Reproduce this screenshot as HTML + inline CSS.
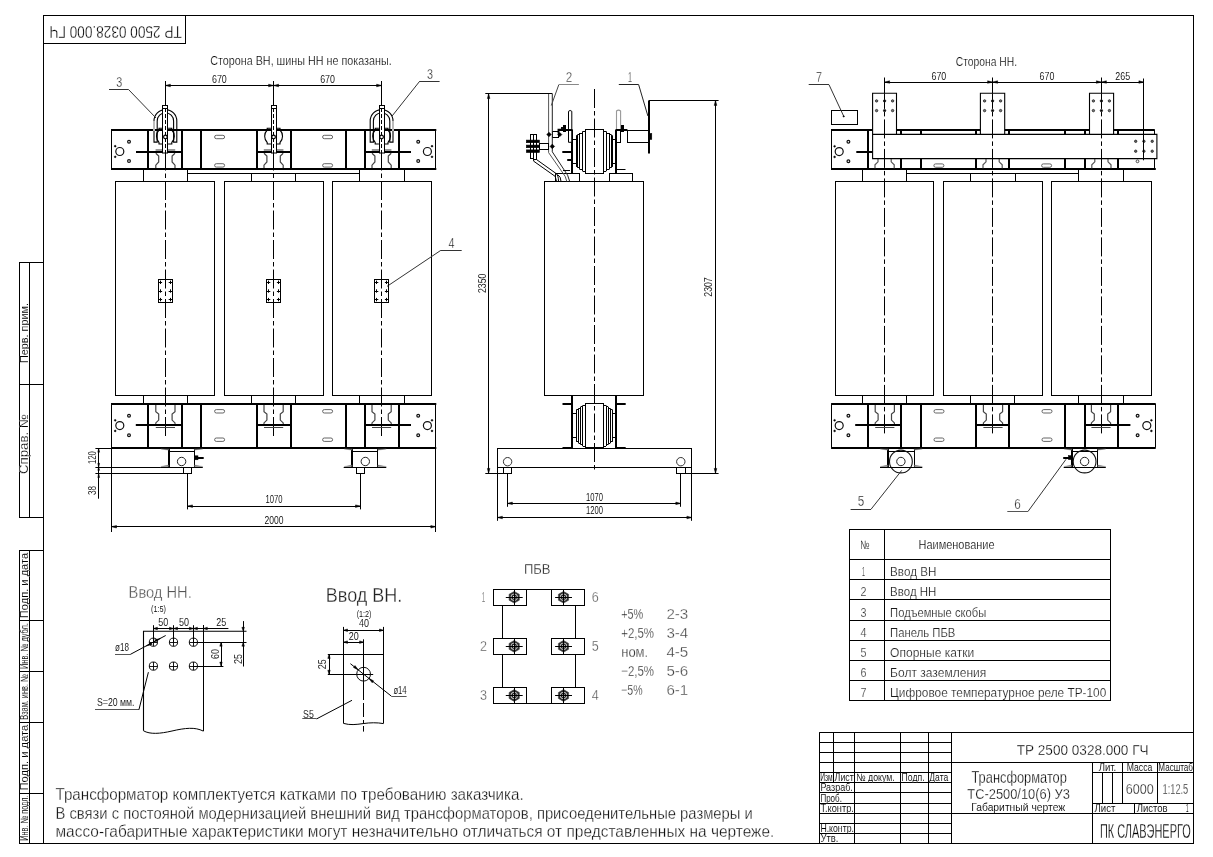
<!DOCTYPE html>
<html><head><meta charset="utf-8"><title>TP 2500</title>
<style>
html,body{margin:0;padding:0;background:#fff;}
body{width:1213px;height:857px;overflow:hidden;}
svg{display:block;will-change:transform;}
text{font-family:"Liberation Sans",sans-serif;stroke:#fff;}
</style></head><body>
<svg width="1213" height="857" viewBox="0 0 1213 857">
<rect x="0" y="0" width="1213" height="857" fill="#fff"/>
<rect x="43.5" y="15.5" width="1150.0" height="828.0" stroke="#000" stroke-width="1" fill="none" />
<rect x="43.5" y="15.5" width="142.0" height="28.0" stroke="#000" stroke-width="1" fill="none" />
<text x="115.6" y="30.5" font-size="16" text-anchor="middle" fill="#000" stroke-width="0.3" textLength="132.3" lengthAdjust="spacingAndGlyphs" transform="rotate(180 115.6 30.5)" dominant-baseline="middle">ТР 2500 0328.000 ГЧ</text>
<rect x="19.5" y="262.5" width="24.0" height="255.0" stroke="#000" stroke-width="1" fill="none" />
<line x1="29.5" y1="262.7" x2="29.5" y2="517.0" stroke="#000" stroke-width="1" />
<line x1="19.3" y1="384.5" x2="43.5" y2="384.5" stroke="#000" stroke-width="1" />
<text x="28.0" y="333.0" font-size="10.5" text-anchor="middle" fill="#000" stroke-width="0.08" textLength="60.0" lengthAdjust="spacingAndGlyphs" transform="rotate(-90 28.0 333.0)" >Перв. прим.</text>
<text x="28.0" y="444.0" font-size="12" text-anchor="middle" fill="#000" stroke-width="0.2" textLength="60.0" lengthAdjust="spacingAndGlyphs" transform="rotate(-90 28.0 444.0)" >Справ. №</text>
<rect x="19.5" y="550.5" width="24.0" height="293.0" stroke="#000" stroke-width="1" fill="none" />
<line x1="29.5" y1="550.4" x2="29.5" y2="843.3" stroke="#000" stroke-width="1" />
<line x1="19.5" y1="620.5" x2="43.5" y2="620.5" stroke="#000" stroke-width="1" />
<line x1="19.5" y1="671.5" x2="43.5" y2="671.5" stroke="#000" stroke-width="1" />
<line x1="19.5" y1="722.5" x2="43.5" y2="722.5" stroke="#000" stroke-width="1" />
<line x1="19.5" y1="793.5" x2="43.5" y2="793.5" stroke="#000" stroke-width="1" />
<text x="28.3" y="585.5" font-size="10.5" text-anchor="middle" fill="#000" stroke-width="0.08" textLength="65.3" lengthAdjust="spacingAndGlyphs" transform="rotate(-90 28.3 585.5)" >Подп. и дата</text>
<text x="28.3" y="646.1" font-size="10.5" text-anchor="middle" fill="#000" stroke-width="0.08" textLength="45.8" lengthAdjust="spacingAndGlyphs" transform="rotate(-90 28.3 646.1)" >Инв. № дубл.</text>
<text x="28.3" y="696.9" font-size="10.5" text-anchor="middle" fill="#000" stroke-width="0.08" textLength="45.7" lengthAdjust="spacingAndGlyphs" transform="rotate(-90 28.3 696.9)" >Взам. инв. №</text>
<text x="28.3" y="757.6" font-size="10.5" text-anchor="middle" fill="#000" stroke-width="0.08" textLength="65.8" lengthAdjust="spacingAndGlyphs" transform="rotate(-90 28.3 757.6)" >Подп. и дата</text>
<text x="28.3" y="818.1" font-size="10.5" text-anchor="middle" fill="#000" stroke-width="0.08" textLength="45.3" lengthAdjust="spacingAndGlyphs" transform="rotate(-90 28.3 818.1)" >Инв. № подл.</text>
<rect x="115.5" y="181.5" width="99.0" height="214.0" stroke="#000" stroke-width="1" fill="none" />
<rect x="224.5" y="181.5" width="99.0" height="214.0" stroke="#000" stroke-width="1" fill="none" />
<rect x="332.5" y="181.5" width="99.0" height="214.0" stroke="#000" stroke-width="1" fill="none" />
<rect x="143.5" y="168.5" width="44.0" height="13.0" stroke="#000" stroke-width="1" fill="none" />
<rect x="359.5" y="168.5" width="45.0" height="13.0" stroke="#000" stroke-width="1" fill="none" />
<line x1="187.3" y1="173.5" x2="359.5" y2="173.5" stroke="#000" stroke-width="1" />
<line x1="251.5" y1="173.5" x2="251.5" y2="181.2" stroke="#000" stroke-width="1" />
<line x1="295.5" y1="173.5" x2="295.5" y2="181.2" stroke="#000" stroke-width="1" />
<line x1="165.5" y1="81.0" x2="165.5" y2="105.4" stroke="#000" stroke-width="1" />
<line x1="165.5" y1="153.0" x2="165.5" y2="436.0" stroke="#000" stroke-width="1" stroke-dasharray="19 3 4.5 3" stroke-dashoffset="1.5"/>
<line x1="273.5" y1="81.0" x2="273.5" y2="105.4" stroke="#000" stroke-width="1" />
<line x1="273.5" y1="153.0" x2="273.5" y2="436.0" stroke="#000" stroke-width="1" stroke-dasharray="19 3 4.5 3" stroke-dashoffset="1.5"/>
<line x1="381.5" y1="81.0" x2="381.5" y2="105.4" stroke="#000" stroke-width="1" />
<line x1="381.5" y1="153.0" x2="381.5" y2="436.0" stroke="#000" stroke-width="1" stroke-dasharray="19 3 4.5 3" stroke-dashoffset="1.5"/>
<path d="M155.8 153.3 L158.7 156.0 L158.7 162.0 L155.8 165.2 L155.8 168.0" stroke="#444" stroke-width="1.2" fill="none" />
<path d="M175.0 153.3 L172.1 156.0 L172.1 162.0 L175.0 165.2 L175.0 168.0" stroke="#444" stroke-width="1.2" fill="none" />
<line x1="155.6" y1="150.0" x2="175.2" y2="150.0" stroke="#999" stroke-width="2" />
<path d="M264.0 153.3 L266.9 156.0 L266.9 162.0 L264.0 165.2 L264.0 168.0" stroke="#444" stroke-width="1.2" fill="none" />
<path d="M283.2 153.3 L280.3 156.0 L280.3 162.0 L283.2 165.2 L283.2 168.0" stroke="#444" stroke-width="1.2" fill="none" />
<line x1="263.8" y1="150.0" x2="283.4" y2="150.0" stroke="#999" stroke-width="2" />
<path d="M372.0 153.3 L374.9 156.0 L374.9 162.0 L372.0 165.2 L372.0 168.0" stroke="#444" stroke-width="1.2" fill="none" />
<path d="M391.2 153.3 L388.3 156.0 L388.3 162.0 L391.2 165.2 L391.2 168.0" stroke="#444" stroke-width="1.2" fill="none" />
<line x1="371.8" y1="150.0" x2="391.4" y2="150.0" stroke="#999" stroke-width="2" />
<line x1="111.0" y1="130.0" x2="436.3" y2="130.0" stroke="#000" stroke-width="2" />
<line x1="111.0" y1="169.0" x2="436.3" y2="169.0" stroke="#000" stroke-width="2" />
<line x1="111.5" y1="130.1" x2="111.5" y2="168.8" stroke="#000" stroke-width="1" />
<line x1="435.5" y1="130.1" x2="435.5" y2="168.8" stroke="#000" stroke-width="1" />
<line x1="148.0" y1="130.1" x2="148.0" y2="168.8" stroke="#000" stroke-width="2" />
<line x1="182.0" y1="130.1" x2="182.0" y2="168.8" stroke="#000" stroke-width="2" />
<line x1="201.0" y1="130.1" x2="201.0" y2="168.8" stroke="#000" stroke-width="2" />
<line x1="257.0" y1="130.1" x2="257.0" y2="168.8" stroke="#000" stroke-width="2" />
<line x1="291.0" y1="130.1" x2="291.0" y2="168.8" stroke="#000" stroke-width="2" />
<line x1="346.0" y1="130.1" x2="346.0" y2="168.8" stroke="#000" stroke-width="2" />
<line x1="365.0" y1="130.1" x2="365.0" y2="168.8" stroke="#000" stroke-width="2" />
<line x1="399.0" y1="130.1" x2="399.0" y2="168.8" stroke="#000" stroke-width="2" />
<line x1="136.0" y1="152.0" x2="182.3" y2="152.0" stroke="#000" stroke-width="2" />
<line x1="256.6" y1="152.0" x2="290.6" y2="152.0" stroke="#000" stroke-width="2" />
<line x1="364.9" y1="152.0" x2="411.0" y2="152.0" stroke="#000" stroke-width="2" />
<rect x="214.6" y="135.3" width="10" height="3.4" rx="1.7" stroke="#555" stroke-width="0.9" fill="none"/>
<rect x="214.6" y="163.7" width="10" height="3.4" rx="1.7" stroke="#555" stroke-width="0.9" fill="none"/>
<rect x="322.6" y="135.3" width="10" height="3.4" rx="1.7" stroke="#555" stroke-width="0.9" fill="none"/>
<rect x="322.6" y="163.7" width="10" height="3.4" rx="1.7" stroke="#555" stroke-width="0.9" fill="none"/>
<circle cx="119.8" cy="151.5" r="4.0" stroke="#111" stroke-width="1.2" fill="none"/>
<circle cx="129.0" cy="141.7" r="1.4" stroke="#111" stroke-width="1.2" fill="none"/>
<circle cx="129.0" cy="161.1" r="1.4" stroke="#111" stroke-width="1.2" fill="none"/>
<circle cx="115.2" cy="146.2" r="0.9" stroke="#000" stroke-width="0.5" fill="#000"/>
<circle cx="115.2" cy="156.8" r="0.9" stroke="#000" stroke-width="0.5" fill="#000"/>
<circle cx="427.4" cy="151.5" r="4.0" stroke="#111" stroke-width="1.2" fill="none"/>
<circle cx="418.2" cy="141.7" r="1.4" stroke="#111" stroke-width="1.2" fill="none"/>
<circle cx="418.2" cy="161.1" r="1.4" stroke="#111" stroke-width="1.2" fill="none"/>
<circle cx="432.0" cy="146.2" r="0.9" stroke="#000" stroke-width="0.5" fill="#000"/>
<circle cx="432.0" cy="156.8" r="0.9" stroke="#000" stroke-width="0.5" fill="#000"/>
<path d="M162.7 128.3 L159.0 128.3 L159.0 130 A9 9 0 0 0 159.0 142.5 L159.0 144 L162.7 144" stroke="#000" stroke-width="1.1" fill="none" />
<path d="M168.1 128.3 L171.8 128.3 L171.8 130 A9 9 0 0 1 171.8 142.5 L171.8 144 L168.1 144" stroke="#000" stroke-width="1.1" fill="none" />
<path d="M154.0 142.1 L154.0 121 A11.4 11.4 0 0 1 176.8 121 L176.8 142.1 L173.6 142.1 L173.6 121 A8.2 8.2 0 0 0 157.2 121 L157.2 142.1Z" stroke="#000" stroke-width="1.1" fill="none" />
<line x1="154.0" y1="121.0" x2="154.0" y2="131.0" stroke="#bbb" stroke-width="2" />
<rect x="162.5" y="105.5" width="5.0" height="47.5" fill="#fff" stroke="#000" stroke-width="1"/>
<line x1="162.5" y1="108.5" x2="167.5" y2="108.5" stroke="#000" stroke-width="1" />
<line x1="165.5" y1="108.0" x2="165.5" y2="153.0" stroke="#000" stroke-width="1" stroke-dasharray="4 2"/>
<circle cx="165.4" cy="137.0" r="1.8" stroke="#000" stroke-width="1.2" fill="#fff"/>
<path d="M270.9 128.3 L267.2 128.3 L267.2 130 A9 9 0 0 0 267.2 142.5 L267.2 144 L270.9 144" stroke="#000" stroke-width="1.1" fill="none" />
<path d="M276.3 128.3 L280.0 128.3 L280.0 130 A9 9 0 0 1 280.0 142.5 L280.0 144 L276.3 144" stroke="#000" stroke-width="1.1" fill="none" />
<rect x="271.5" y="105.5" width="5.0" height="47.5" fill="#fff" stroke="#000" stroke-width="1"/>
<line x1="271.5" y1="108.5" x2="276.5" y2="108.5" stroke="#000" stroke-width="1" />
<line x1="273.5" y1="108.0" x2="273.5" y2="153.0" stroke="#000" stroke-width="1" stroke-dasharray="4 2"/>
<circle cx="273.6" cy="137.0" r="1.8" stroke="#000" stroke-width="1.2" fill="#fff"/>
<path d="M378.9 128.3 L375.2 128.3 L375.2 130 A9 9 0 0 0 375.2 142.5 L375.2 144 L378.9 144" stroke="#000" stroke-width="1.1" fill="none" />
<path d="M384.3 128.3 L388.0 128.3 L388.0 130 A9 9 0 0 1 388.0 142.5 L388.0 144 L384.3 144" stroke="#000" stroke-width="1.1" fill="none" />
<path d="M370.2 142.1 L370.2 121 A11.4 11.4 0 0 1 393.0 121 L393.0 142.1 L389.8 142.1 L389.8 121 A8.2 8.2 0 0 0 373.4 121 L373.4 142.1Z" stroke="#000" stroke-width="1.1" fill="none" />
<line x1="393.0" y1="121.0" x2="393.0" y2="131.0" stroke="#bbb" stroke-width="2" />
<rect x="379.5" y="105.5" width="5.0" height="47.5" fill="#fff" stroke="#000" stroke-width="1"/>
<line x1="379.5" y1="108.5" x2="384.5" y2="108.5" stroke="#000" stroke-width="1" />
<line x1="381.5" y1="108.0" x2="381.5" y2="153.0" stroke="#000" stroke-width="1" stroke-dasharray="4 2"/>
<circle cx="381.6" cy="137.0" r="1.8" stroke="#000" stroke-width="1.2" fill="#fff"/>
<line x1="165.4" y1="85.5" x2="381.6" y2="85.5" stroke="#000" stroke-width="1" />
<path d="M165.4 85.5 L170.4 84.2 L170.4 86.8Z" fill="#000" stroke="#000" stroke-width="0.5"/>
<path d="M273.6 85.5 L268.6 84.2 L268.6 86.8Z" fill="#000" stroke="#000" stroke-width="0.5"/>
<path d="M273.6 85.5 L278.6 84.2 L278.6 86.8Z" fill="#000" stroke="#000" stroke-width="0.5"/>
<path d="M381.6 85.5 L376.6 84.2 L376.6 86.8Z" fill="#000" stroke="#000" stroke-width="0.5"/>
<text x="219.4" y="82.8" font-size="10" text-anchor="middle" fill="#000" stroke-width="0.08" textLength="14.8" lengthAdjust="spacingAndGlyphs" >670</text>
<text x="327.6" y="82.8" font-size="10" text-anchor="middle" fill="#000" stroke-width="0.08" textLength="14.8" lengthAdjust="spacingAndGlyphs" >670</text>
<text x="210.2" y="64.6" font-size="12" text-anchor="start" fill="#000" stroke-width="0.2" textLength="181.5" lengthAdjust="spacingAndGlyphs" >Сторона ВН, шины НН не показаны.</text>
<text x="119.3" y="86.7" font-size="14" text-anchor="middle" fill="#1a1a1a" stroke-width="0.3" textLength="6.0" lengthAdjust="spacingAndGlyphs" >3</text>
<line x1="109.0" y1="89.5" x2="128.7" y2="89.5" stroke="#333" stroke-width="1" />
<line x1="128.7" y1="89.7" x2="156.0" y2="118.0" stroke="#333" stroke-width="1" />
<text x="429.9" y="78.5" font-size="14" text-anchor="middle" fill="#1a1a1a" stroke-width="0.3" textLength="6.0" lengthAdjust="spacingAndGlyphs" >3</text>
<line x1="419.8" y1="81.5" x2="439.6" y2="81.5" stroke="#333" stroke-width="1" />
<line x1="419.8" y1="81.1" x2="392.1" y2="116.0" stroke="#333" stroke-width="1" />
<text x="451.5" y="247.7" font-size="14" text-anchor="middle" fill="#1a1a1a" stroke-width="0.3" textLength="6.0" lengthAdjust="spacingAndGlyphs" >4</text>
<line x1="440.9" y1="250.5" x2="461.7" y2="250.5" stroke="#333" stroke-width="1" />
<line x1="440.9" y1="250.3" x2="387.0" y2="286.4" stroke="#333" stroke-width="1" />
<rect x="158.5" y="279.5" width="14.0" height="23.0" stroke="#000" stroke-width="1" fill="none" />
<line x1="158.7" y1="282.5" x2="162.1" y2="282.5" stroke="#000" stroke-width="1" />
<line x1="160.5" y1="280.6" x2="160.5" y2="284.0" stroke="#000" stroke-width="1" />
<line x1="158.7" y1="291.5" x2="162.1" y2="291.5" stroke="#000" stroke-width="1" />
<line x1="160.5" y1="289.3" x2="160.5" y2="292.7" stroke="#000" stroke-width="1" />
<line x1="158.7" y1="299.5" x2="162.1" y2="299.5" stroke="#000" stroke-width="1" />
<line x1="160.5" y1="297.9" x2="160.5" y2="301.3" stroke="#000" stroke-width="1" />
<line x1="168.7" y1="282.5" x2="172.1" y2="282.5" stroke="#000" stroke-width="1" />
<line x1="170.5" y1="280.6" x2="170.5" y2="284.0" stroke="#000" stroke-width="1" />
<line x1="168.7" y1="291.5" x2="172.1" y2="291.5" stroke="#000" stroke-width="1" />
<line x1="170.5" y1="289.3" x2="170.5" y2="292.7" stroke="#000" stroke-width="1" />
<line x1="168.7" y1="299.5" x2="172.1" y2="299.5" stroke="#000" stroke-width="1" />
<line x1="170.5" y1="297.9" x2="170.5" y2="301.3" stroke="#000" stroke-width="1" />
<rect x="266.5" y="279.5" width="14.0" height="23.0" stroke="#000" stroke-width="1" fill="none" />
<line x1="266.9" y1="282.5" x2="270.3" y2="282.5" stroke="#000" stroke-width="1" />
<line x1="268.5" y1="280.6" x2="268.5" y2="284.0" stroke="#000" stroke-width="1" />
<line x1="266.9" y1="291.5" x2="270.3" y2="291.5" stroke="#000" stroke-width="1" />
<line x1="268.5" y1="289.3" x2="268.5" y2="292.7" stroke="#000" stroke-width="1" />
<line x1="266.9" y1="299.5" x2="270.3" y2="299.5" stroke="#000" stroke-width="1" />
<line x1="268.5" y1="297.9" x2="268.5" y2="301.3" stroke="#000" stroke-width="1" />
<line x1="276.9" y1="282.5" x2="280.3" y2="282.5" stroke="#000" stroke-width="1" />
<line x1="278.5" y1="280.6" x2="278.5" y2="284.0" stroke="#000" stroke-width="1" />
<line x1="276.9" y1="291.5" x2="280.3" y2="291.5" stroke="#000" stroke-width="1" />
<line x1="278.5" y1="289.3" x2="278.5" y2="292.7" stroke="#000" stroke-width="1" />
<line x1="276.9" y1="299.5" x2="280.3" y2="299.5" stroke="#000" stroke-width="1" />
<line x1="278.5" y1="297.9" x2="278.5" y2="301.3" stroke="#000" stroke-width="1" />
<rect x="374.5" y="279.5" width="14.0" height="23.0" stroke="#000" stroke-width="1" fill="none" />
<line x1="374.9" y1="282.5" x2="378.3" y2="282.5" stroke="#000" stroke-width="1" />
<line x1="376.5" y1="280.6" x2="376.5" y2="284.0" stroke="#000" stroke-width="1" />
<line x1="374.9" y1="291.5" x2="378.3" y2="291.5" stroke="#000" stroke-width="1" />
<line x1="376.5" y1="289.3" x2="376.5" y2="292.7" stroke="#000" stroke-width="1" />
<line x1="374.9" y1="299.5" x2="378.3" y2="299.5" stroke="#000" stroke-width="1" />
<line x1="376.5" y1="297.9" x2="376.5" y2="301.3" stroke="#000" stroke-width="1" />
<line x1="384.9" y1="282.5" x2="388.3" y2="282.5" stroke="#000" stroke-width="1" />
<line x1="386.5" y1="280.6" x2="386.5" y2="284.0" stroke="#000" stroke-width="1" />
<line x1="384.9" y1="291.5" x2="388.3" y2="291.5" stroke="#000" stroke-width="1" />
<line x1="386.5" y1="289.3" x2="386.5" y2="292.7" stroke="#000" stroke-width="1" />
<line x1="384.9" y1="299.5" x2="388.3" y2="299.5" stroke="#000" stroke-width="1" />
<line x1="386.5" y1="297.9" x2="386.5" y2="301.3" stroke="#000" stroke-width="1" />
<line x1="143.5" y1="395.3" x2="143.5" y2="403.9" stroke="#000" stroke-width="1" />
<line x1="187.5" y1="395.3" x2="187.5" y2="403.9" stroke="#000" stroke-width="1" />
<line x1="251.5" y1="395.3" x2="251.5" y2="403.9" stroke="#000" stroke-width="1" />
<line x1="295.5" y1="395.3" x2="295.5" y2="403.9" stroke="#000" stroke-width="1" />
<line x1="359.5" y1="395.3" x2="359.5" y2="403.9" stroke="#000" stroke-width="1" />
<line x1="404.5" y1="395.3" x2="404.5" y2="403.9" stroke="#000" stroke-width="1" />
<path d="M155.8 404.8 L155.8 411.7 L158.7 414.0 L158.7 420.1 L155.8 422.9 L155.8 424.0" stroke="#444" stroke-width="1.2" fill="none" />
<path d="M175.0 404.8 L175.0 411.7 L172.1 414.0 L172.1 420.1 L175.0 422.9 L175.0 424.0" stroke="#444" stroke-width="1.2" fill="none" />
<line x1="155.8" y1="427.5" x2="175.0" y2="427.5" stroke="#444" stroke-width="1" />
<path d="M264.0 404.8 L264.0 411.7 L266.9 414.0 L266.9 420.1 L264.0 422.9 L264.0 424.0" stroke="#444" stroke-width="1.2" fill="none" />
<path d="M283.2 404.8 L283.2 411.7 L280.3 414.0 L280.3 420.1 L283.2 422.9 L283.2 424.0" stroke="#444" stroke-width="1.2" fill="none" />
<line x1="264.0" y1="427.5" x2="283.2" y2="427.5" stroke="#444" stroke-width="1" />
<path d="M372.0 404.8 L372.0 411.7 L374.9 414.0 L374.9 420.1 L372.0 422.9 L372.0 424.0" stroke="#444" stroke-width="1.2" fill="none" />
<path d="M391.2 404.8 L391.2 411.7 L388.3 414.0 L388.3 420.1 L391.2 422.9 L391.2 424.0" stroke="#444" stroke-width="1.2" fill="none" />
<line x1="372.0" y1="427.5" x2="391.2" y2="427.5" stroke="#444" stroke-width="1" />
<line x1="111.0" y1="404.0" x2="436.3" y2="404.0" stroke="#000" stroke-width="2" />
<line x1="111.0" y1="448.0" x2="436.3" y2="448.0" stroke="#000" stroke-width="2" />
<line x1="111.5" y1="403.9" x2="111.5" y2="447.6" stroke="#000" stroke-width="1" />
<line x1="435.5" y1="403.9" x2="435.5" y2="447.6" stroke="#000" stroke-width="1" />
<line x1="148.0" y1="403.9" x2="148.0" y2="447.6" stroke="#000" stroke-width="2" />
<line x1="182.0" y1="403.9" x2="182.0" y2="447.6" stroke="#000" stroke-width="2" />
<line x1="201.0" y1="403.9" x2="201.0" y2="447.6" stroke="#000" stroke-width="2" />
<line x1="257.0" y1="403.9" x2="257.0" y2="447.6" stroke="#000" stroke-width="2" />
<line x1="291.0" y1="403.9" x2="291.0" y2="447.6" stroke="#000" stroke-width="2" />
<line x1="346.0" y1="403.9" x2="346.0" y2="447.6" stroke="#000" stroke-width="2" />
<line x1="365.0" y1="403.9" x2="365.0" y2="447.6" stroke="#000" stroke-width="2" />
<line x1="399.0" y1="403.9" x2="399.0" y2="447.6" stroke="#000" stroke-width="2" />
<line x1="135.8" y1="425.0" x2="182.3" y2="425.0" stroke="#000" stroke-width="2" />
<line x1="256.6" y1="425.0" x2="290.6" y2="425.0" stroke="#000" stroke-width="2" />
<line x1="364.9" y1="425.0" x2="411.0" y2="425.0" stroke="#000" stroke-width="2" />
<rect x="214.6" y="409.6" width="10" height="3.4" rx="1.7" stroke="#555" stroke-width="0.9" fill="none"/>
<rect x="214.6" y="438.0" width="10" height="3.4" rx="1.7" stroke="#555" stroke-width="0.9" fill="none"/>
<rect x="322.6" y="409.6" width="10" height="3.4" rx="1.7" stroke="#555" stroke-width="0.9" fill="none"/>
<rect x="322.6" y="438.0" width="10" height="3.4" rx="1.7" stroke="#555" stroke-width="0.9" fill="none"/>
<circle cx="119.8" cy="425.6" r="4.0" stroke="#111" stroke-width="1.2" fill="none"/>
<circle cx="129.0" cy="415.8" r="1.4" stroke="#111" stroke-width="1.2" fill="none"/>
<circle cx="129.0" cy="435.2" r="1.4" stroke="#111" stroke-width="1.2" fill="none"/>
<circle cx="115.2" cy="420.3" r="0.9" stroke="#000" stroke-width="0.5" fill="#000"/>
<circle cx="115.2" cy="430.9" r="0.9" stroke="#000" stroke-width="0.5" fill="#000"/>
<circle cx="427.4" cy="425.6" r="4.0" stroke="#111" stroke-width="1.2" fill="none"/>
<circle cx="418.2" cy="415.8" r="1.4" stroke="#111" stroke-width="1.2" fill="none"/>
<circle cx="418.2" cy="435.2" r="1.4" stroke="#111" stroke-width="1.2" fill="none"/>
<circle cx="432.0" cy="420.3" r="0.9" stroke="#000" stroke-width="0.5" fill="#000"/>
<circle cx="432.0" cy="430.9" r="0.9" stroke="#000" stroke-width="0.5" fill="#000"/>
<line x1="169.0" y1="447.6" x2="169.0" y2="467.2" stroke="#000" stroke-width="2" />
<line x1="194.5" y1="447.6" x2="194.5" y2="467.2" stroke="#000" stroke-width="1" />
<line x1="168.8" y1="451.5" x2="194.3" y2="451.5" stroke="#000" stroke-width="1" />
<circle cx="181.6" cy="461.5" r="4.2" stroke="#222" stroke-width="1" fill="none"/>
<line x1="160.3" y1="467.5" x2="202.8" y2="467.5" stroke="#000" stroke-width="1" />
<path d="M160.8 448.9 L168.8 448.9 L168.8 450.2Z" stroke="#666" stroke-width="0.3" fill="#666" />
<path d="M160.8 466.5 L168.8 466.5 L168.8 465.0Z" stroke="#666" stroke-width="0.3" fill="#666" />
<path d="M202.8 448.9 L194.3 448.9 L194.3 450.2Z" stroke="#666" stroke-width="0.3" fill="#666" />
<path d="M202.8 466.5 L194.3 466.5 L194.3 465.0Z" stroke="#666" stroke-width="0.3" fill="#666" />
<line x1="352.0" y1="447.6" x2="352.0" y2="467.2" stroke="#000" stroke-width="2" />
<line x1="377.5" y1="447.6" x2="377.5" y2="467.2" stroke="#000" stroke-width="1" />
<line x1="352.2" y1="451.5" x2="377.8" y2="451.5" stroke="#000" stroke-width="1" />
<circle cx="365.3" cy="461.5" r="4.2" stroke="#222" stroke-width="1" fill="none"/>
<line x1="343.7" y1="467.5" x2="386.3" y2="467.5" stroke="#000" stroke-width="1" />
<path d="M344.2 448.9 L352.2 448.9 L352.2 450.2Z" stroke="#666" stroke-width="0.3" fill="#666" />
<path d="M344.2 466.5 L352.2 466.5 L352.2 465.0Z" stroke="#666" stroke-width="0.3" fill="#666" />
<path d="M386.3 448.9 L377.8 448.9 L377.8 450.2Z" stroke="#666" stroke-width="0.3" fill="#666" />
<path d="M386.3 466.5 L377.8 466.5 L377.8 465.0Z" stroke="#666" stroke-width="0.3" fill="#666" />
<line x1="194.3" y1="458.0" x2="203.7" y2="458.0" stroke="#000" stroke-width="2" />
<rect x="194.8" y="455.8" width="3.2" height="4.0" stroke="#000" stroke-width="0.5" fill="#000" />
<rect x="183.5" y="467.5" width="8.0" height="6.0" stroke="#000" stroke-width="1" fill="none" />
<rect x="356.5" y="467.5" width="8.0" height="6.0" stroke="#000" stroke-width="1" fill="none" />
<line x1="95.4" y1="448.5" x2="111.5" y2="448.5" stroke="#000" stroke-width="1" />
<line x1="95.4" y1="467.5" x2="160.6" y2="467.5" stroke="#000" stroke-width="1" />
<line x1="95.4" y1="473.5" x2="183.7" y2="473.5" stroke="#000" stroke-width="1" />
<line x1="98.5" y1="448.2" x2="98.5" y2="498.7" stroke="#000" stroke-width="1" />
<path d="M98.7 448.2 L97.8 452.2 L99.6 452.2Z" fill="#000" stroke="#000" stroke-width="0.5"/>
<path d="M98.7 467.3 L97.8 463.3 L99.6 463.3Z" fill="#000" stroke="#000" stroke-width="0.5"/>
<path d="M98.7 467.3 L97.8 470.3 L99.6 470.3Z" fill="#000" stroke="#000" stroke-width="0.5"/>
<path d="M98.7 473.5 L97.8 477.5 L99.6 477.5Z" fill="#000" stroke="#000" stroke-width="0.5"/>
<text x="96.0" y="457.6" font-size="10" text-anchor="middle" fill="#000" stroke-width="0.08" textLength="13.0" lengthAdjust="spacingAndGlyphs" transform="rotate(-90 96.0 457.6)" >120</text>
<text x="96.0" y="490.5" font-size="10" text-anchor="middle" fill="#000" stroke-width="0.08" textLength="9.0" lengthAdjust="spacingAndGlyphs" transform="rotate(-90 96.0 490.5)" >38</text>
<line x1="187.5" y1="473.5" x2="187.5" y2="509.4" stroke="#000" stroke-width="1" />
<line x1="360.5" y1="473.5" x2="360.5" y2="509.4" stroke="#000" stroke-width="1" />
<line x1="187.5" y1="506.5" x2="360.5" y2="506.5" stroke="#000" stroke-width="1" />
<path d="M187.5 506.1 L192.5 504.9 L192.5 507.4Z" fill="#000" stroke="#000" stroke-width="0.5"/>
<path d="M360.5 506.1 L355.5 504.9 L355.5 507.4Z" fill="#000" stroke="#000" stroke-width="0.5"/>
<text x="273.9" y="503.3" font-size="10" text-anchor="middle" fill="#000" stroke-width="0.08" textLength="17.0" lengthAdjust="spacingAndGlyphs" >1070</text>
<line x1="111.5" y1="447.6" x2="111.5" y2="532.0" stroke="#000" stroke-width="1" />
<line x1="435.5" y1="447.6" x2="435.5" y2="532.0" stroke="#000" stroke-width="1" />
<line x1="111.5" y1="526.5" x2="435.8" y2="526.5" stroke="#000" stroke-width="1" />
<path d="M111.5 526.7 L116.5 525.5 L116.5 528.0Z" fill="#000" stroke="#000" stroke-width="0.5"/>
<path d="M435.8 526.7 L430.8 525.5 L430.8 528.0Z" fill="#000" stroke="#000" stroke-width="0.5"/>
<text x="273.9" y="523.8" font-size="10" text-anchor="middle" fill="#000" stroke-width="0.08" textLength="19.0" lengthAdjust="spacingAndGlyphs" >2000</text>
<rect x="544.5" y="181.5" width="99.0" height="214.0" stroke="#000" stroke-width="1" fill="none" />
<rect x="555.5" y="173.5" width="24.0" height="8.0" stroke="#000" stroke-width="1" fill="none" />
<rect x="609.5" y="173.5" width="23.0" height="8.0" stroke="#000" stroke-width="1" fill="none" />
<rect x="585.5" y="129.5" width="18.0" height="44.0" stroke="#000" stroke-width="1" fill="#fff" />
<line x1="582.5" y1="131.4" x2="582.5" y2="171.0" stroke="#000" stroke-width="1" />
<line x1="585.6" y1="131.5" x2="582.6" y2="131.5" stroke="#000" stroke-width="1" />
<line x1="585.6" y1="171.5" x2="582.6" y2="171.5" stroke="#000" stroke-width="1" />
<line x1="606.5" y1="131.4" x2="606.5" y2="171.0" stroke="#000" stroke-width="1" />
<line x1="603.2" y1="131.5" x2="606.2" y2="131.5" stroke="#000" stroke-width="1" />
<line x1="603.2" y1="171.5" x2="606.2" y2="171.5" stroke="#000" stroke-width="1" />
<line x1="579.5" y1="133.0" x2="579.5" y2="169.4" stroke="#000" stroke-width="1" />
<line x1="582.6" y1="133.5" x2="579.7" y2="133.5" stroke="#000" stroke-width="1" />
<line x1="582.6" y1="169.5" x2="579.7" y2="169.5" stroke="#000" stroke-width="1" />
<line x1="609.5" y1="133.0" x2="609.5" y2="169.4" stroke="#000" stroke-width="1" />
<line x1="606.2" y1="133.5" x2="609.1" y2="133.5" stroke="#000" stroke-width="1" />
<line x1="606.2" y1="169.5" x2="609.1" y2="169.5" stroke="#000" stroke-width="1" />
<line x1="577.5" y1="134.6" x2="577.5" y2="167.8" stroke="#000" stroke-width="1" />
<line x1="579.7" y1="134.5" x2="577.6" y2="134.5" stroke="#000" stroke-width="1" />
<line x1="579.7" y1="167.5" x2="577.6" y2="167.5" stroke="#000" stroke-width="1" />
<line x1="611.5" y1="134.6" x2="611.5" y2="167.8" stroke="#000" stroke-width="1" />
<line x1="609.1" y1="134.5" x2="611.2" y2="134.5" stroke="#000" stroke-width="1" />
<line x1="609.1" y1="167.5" x2="611.2" y2="167.5" stroke="#000" stroke-width="1" />
<line x1="576.5" y1="135.6" x2="576.5" y2="166.8" stroke="#000" stroke-width="1" />
<line x1="577.6" y1="135.5" x2="576.3" y2="135.5" stroke="#000" stroke-width="1" />
<line x1="577.6" y1="166.5" x2="576.3" y2="166.5" stroke="#000" stroke-width="1" />
<line x1="612.5" y1="135.6" x2="612.5" y2="166.8" stroke="#000" stroke-width="1" />
<line x1="611.2" y1="135.5" x2="612.5" y2="135.5" stroke="#000" stroke-width="1" />
<line x1="611.2" y1="166.5" x2="612.5" y2="166.5" stroke="#000" stroke-width="1" />
<line x1="576.3" y1="139.5" x2="572.8" y2="139.5" stroke="#000" stroke-width="1" />
<line x1="576.3" y1="163.5" x2="572.8" y2="163.5" stroke="#000" stroke-width="1" />
<line x1="612.5" y1="139.5" x2="616.0" y2="139.5" stroke="#000" stroke-width="1" />
<line x1="612.5" y1="163.5" x2="616.0" y2="163.5" stroke="#000" stroke-width="1" />
<line x1="572.0" y1="129.4" x2="572.0" y2="173.2" stroke="#000" stroke-width="2" />
<line x1="616.0" y1="129.4" x2="616.0" y2="173.2" stroke="#000" stroke-width="2" />
<path d="M568.5 142.3 L568.5 111.3 Q570.1 109.6 571.8 111.3 L571.8 142.3 Z" stroke="#000" stroke-width="1" fill="#fff" />
<line x1="558.5" y1="130.0" x2="572.2" y2="130.0" stroke="#000" stroke-width="2" />
<rect x="552.5" y="131.5" width="6.0" height="6.0" stroke="#000" stroke-width="1" fill="none" />
<path d="M558.5 133.5 L558.5 129.6 L562 129.6 L562 127" stroke="#000" stroke-width="1.9" fill="none" />
<rect x="563.5" y="125.5" width="2.0" height="6.0" stroke="#000" stroke-width="1" fill="#000" />
<path d="M557.5 134.6 l2.2 -2.2 l2.2 2.2 l-2.2 2.2z" stroke="#000" stroke-width="0.5" fill="#000" />
<line x1="562.3" y1="152.0" x2="572.2" y2="152.0" stroke="#000" stroke-width="2" />
<line x1="567.2" y1="160.0" x2="572.2" y2="160.0" stroke="#000" stroke-width="2" />
<path d="M548.6 93.6 L548.6 152.6 L565.2 176.4 L566.8 181.4" stroke="#555" stroke-width="1" fill="none" />
<path d="M552.3 93.6 L552.3 151.8 L567.6 175.2 L569.7 181.4" stroke="#222" stroke-width="1" fill="none" />
<path d="M549 132.2 l2.3 2.3 l-2.3 2.3 l-2.3 -2.3z" stroke="#000" stroke-width="0.5" fill="#000" />
<path d="M552.3 144.1 l2.3 2.3 l-2.3 2.3 l-2.3 -2.3z" stroke="#000" stroke-width="0.5" fill="#000" />
<rect x="539.5" y="143.5" width="9.0" height="6.0" stroke="#000" stroke-width="1" fill="none" />
<rect x="530.5" y="134.5" width="3.0" height="24.0" stroke="#000" stroke-width="1" fill="none" />
<rect x="533.5" y="134.5" width="3.0" height="25.0" stroke="#000" stroke-width="1" fill="none" />
<rect x="526.4" y="140.1" width="13.0" height="2.6" stroke="#000" stroke-width="0.6" fill="#000" />
<rect x="526.4" y="145.1" width="13.0" height="2.6" stroke="#000" stroke-width="0.6" fill="#000" />
<rect x="526.4" y="149.9" width="13.0" height="2.6" stroke="#000" stroke-width="0.6" fill="#000" />
<path d="M533.5 158.4 L533.7 161.2 L555.2 176.4 L556.5 181.4" stroke="#000" stroke-width="1" fill="none" />
<path d="M536.6 159.6 L555.8 173.3 Q558.5 175 558.5 181.4" stroke="#000" stroke-width="1" fill="none" />
<path d="M557.5 174.5 Q561 176.5 561 181.4" stroke="#000" stroke-width="1" fill="none" />
<line x1="563.0" y1="170.5" x2="570.0" y2="170.5" stroke="#000" stroke-width="1" />
<path d="M616.5 129 L616.5 111 Q618.5 109.3 620.6 111 L620.6 129" stroke="#999" stroke-width="1.1" fill="none" />
<rect x="616.5" y="129.5" width="4.0" height="13.0" stroke="#000" stroke-width="1" fill="none" />
<line x1="616.2" y1="130.0" x2="627.4" y2="130.0" stroke="#000" stroke-width="2" />
<rect x="621.5" y="125.5" width="2.0" height="6.0" stroke="#000" stroke-width="1" fill="#000" />
<rect x="627.5" y="130.5" width="21.0" height="12.0" stroke="#000" stroke-width="1" fill="none" />
<line x1="649.0" y1="100.4" x2="649.0" y2="153.6" stroke="#000" stroke-width="2" />
<rect x="650.0" y="133.5" width="1.8" height="6.0" stroke="#000" stroke-width="0.5" fill="#000" />
<line x1="616.2" y1="169.5" x2="625.5" y2="169.5" stroke="#000" stroke-width="1" />
<text x="569.0" y="81.8" font-size="14" text-anchor="middle" fill="#333" stroke-width="0.3" textLength="6.5" lengthAdjust="spacingAndGlyphs" >2</text>
<line x1="558.8" y1="84.5" x2="578.9" y2="84.5" stroke="#888" stroke-width="1" />
<line x1="558.8" y1="84.7" x2="551.3" y2="105.5" stroke="#444" stroke-width="1" />
<text x="630.0" y="81.8" font-size="14" text-anchor="middle" fill="#333" stroke-width="0.3" textLength="4.0" lengthAdjust="spacingAndGlyphs" >1</text>
<line x1="618.8" y1="84.5" x2="638.6" y2="84.5" stroke="#222" stroke-width="1" />
<line x1="638.6" y1="84.5" x2="647.9" y2="116.0" stroke="#222" stroke-width="1" />
<line x1="485.3" y1="93.5" x2="552.3" y2="93.5" stroke="#000" stroke-width="1" />
<line x1="488.5" y1="93.6" x2="488.5" y2="473.4" stroke="#000" stroke-width="1" />
<line x1="485.3" y1="473.5" x2="497.4" y2="473.5" stroke="#000" stroke-width="1" />
<path d="M488.6 93.6 L487.4 98.6 L489.9 98.6Z" fill="#000" stroke="#000" stroke-width="0.5"/>
<path d="M488.6 473.4 L487.4 468.4 L489.9 468.4Z" fill="#000" stroke="#000" stroke-width="0.5"/>
<line x1="648.9" y1="100.5" x2="718.6" y2="100.5" stroke="#000" stroke-width="1" />
<line x1="715.5" y1="100.4" x2="715.5" y2="473.4" stroke="#000" stroke-width="1" />
<line x1="691.9" y1="473.5" x2="718.6" y2="473.5" stroke="#000" stroke-width="1" />
<path d="M715.5 100.4 L714.2 105.4 L716.8 105.4Z" fill="#000" stroke="#000" stroke-width="0.5"/>
<path d="M715.5 473.4 L714.2 468.4 L716.8 468.4Z" fill="#000" stroke="#000" stroke-width="0.5"/>
<text x="485.8" y="283.3" font-size="10.5" text-anchor="middle" fill="#000" stroke-width="0.08" textLength="19.4" lengthAdjust="spacingAndGlyphs" transform="rotate(-90 485.8 283.3)" >2350</text>
<text x="712.4" y="287.0" font-size="10.5" text-anchor="middle" fill="#000" stroke-width="0.08" textLength="19.4" lengthAdjust="spacingAndGlyphs" transform="rotate(-90 712.4 287.0)" >2307</text>
<line x1="572.0" y1="395.5" x2="572.0" y2="448.2" stroke="#000" stroke-width="2" />
<line x1="616.0" y1="395.5" x2="616.0" y2="448.2" stroke="#000" stroke-width="2" />
<line x1="562.5" y1="404.0" x2="572.1" y2="404.0" stroke="#000" stroke-width="2" />
<line x1="616.2" y1="404.0" x2="625.7" y2="404.0" stroke="#000" stroke-width="2" />
<line x1="562.5" y1="448.0" x2="572.1" y2="448.0" stroke="#000" stroke-width="2" />
<line x1="616.2" y1="448.0" x2="625.7" y2="448.0" stroke="#000" stroke-width="2" />
<rect x="585.5" y="403.5" width="18.0" height="45.0" stroke="#000" stroke-width="1" fill="#fff" />
<line x1="582.5" y1="405.5" x2="582.5" y2="446.0" stroke="#000" stroke-width="1" />
<line x1="585.6" y1="405.5" x2="582.8" y2="405.5" stroke="#000" stroke-width="1" />
<line x1="585.6" y1="446.5" x2="582.8" y2="446.5" stroke="#000" stroke-width="1" />
<line x1="606.5" y1="405.5" x2="606.5" y2="446.0" stroke="#000" stroke-width="1" />
<line x1="603.2" y1="405.5" x2="606.0" y2="405.5" stroke="#000" stroke-width="1" />
<line x1="603.2" y1="446.5" x2="606.0" y2="446.5" stroke="#000" stroke-width="1" />
<line x1="580.5" y1="406.9" x2="580.5" y2="444.6" stroke="#000" stroke-width="1" />
<line x1="582.8" y1="406.5" x2="580.7" y2="406.5" stroke="#000" stroke-width="1" />
<line x1="582.8" y1="444.5" x2="580.7" y2="444.5" stroke="#000" stroke-width="1" />
<line x1="608.5" y1="406.9" x2="608.5" y2="444.6" stroke="#000" stroke-width="1" />
<line x1="606.0" y1="406.5" x2="608.1" y2="406.5" stroke="#000" stroke-width="1" />
<line x1="606.0" y1="444.5" x2="608.1" y2="444.5" stroke="#000" stroke-width="1" />
<line x1="578.5" y1="408.3" x2="578.5" y2="443.2" stroke="#000" stroke-width="1" />
<line x1="580.7" y1="408.5" x2="578.7" y2="408.5" stroke="#000" stroke-width="1" />
<line x1="580.7" y1="443.5" x2="578.7" y2="443.5" stroke="#000" stroke-width="1" />
<line x1="610.5" y1="408.3" x2="610.5" y2="443.2" stroke="#000" stroke-width="1" />
<line x1="608.1" y1="408.5" x2="610.1" y2="408.5" stroke="#000" stroke-width="1" />
<line x1="608.1" y1="443.5" x2="610.1" y2="443.5" stroke="#000" stroke-width="1" />
<line x1="576.5" y1="409.7" x2="576.5" y2="441.8" stroke="#000" stroke-width="1" />
<line x1="578.7" y1="409.5" x2="576.4" y2="409.5" stroke="#000" stroke-width="1" />
<line x1="578.7" y1="441.5" x2="576.4" y2="441.5" stroke="#000" stroke-width="1" />
<line x1="612.5" y1="409.7" x2="612.5" y2="441.8" stroke="#000" stroke-width="1" />
<line x1="610.1" y1="409.5" x2="612.4" y2="409.5" stroke="#000" stroke-width="1" />
<line x1="610.1" y1="441.5" x2="612.4" y2="441.5" stroke="#000" stroke-width="1" />
<line x1="576.4" y1="413.5" x2="572.2" y2="413.5" stroke="#000" stroke-width="1" />
<line x1="576.4" y1="437.5" x2="572.2" y2="437.5" stroke="#000" stroke-width="1" />
<line x1="612.4" y1="413.5" x2="616.6" y2="413.5" stroke="#000" stroke-width="1" />
<line x1="612.4" y1="437.5" x2="616.6" y2="437.5" stroke="#000" stroke-width="1" />
<line x1="585.6" y1="448.0" x2="603.2" y2="448.0" stroke="#000" stroke-width="2" />
<line x1="594.5" y1="89.0" x2="594.5" y2="471.4" stroke="#000" stroke-width="1" stroke-dasharray="19 3 4.5 3"/>
<rect x="497.5" y="448.5" width="194.0" height="19.0" stroke="#000" stroke-width="1" fill="none" />
<rect x="497.5" y="467.5" width="14.0" height="6.0" stroke="#000" stroke-width="1" fill="none" />
<line x1="503.5" y1="467.4" x2="503.5" y2="473.4" stroke="#000" stroke-width="1" />
<rect x="676.5" y="467.5" width="15.0" height="6.0" stroke="#000" stroke-width="1" fill="none" />
<line x1="685.5" y1="467.4" x2="685.5" y2="473.4" stroke="#000" stroke-width="1" />
<circle cx="507.6" cy="461.7" r="4.2" stroke="#333" stroke-width="1" fill="none"/>
<circle cx="680.8" cy="461.7" r="4.2" stroke="#333" stroke-width="1" fill="none"/>
<line x1="507.5" y1="473.4" x2="507.5" y2="506.8" stroke="#000" stroke-width="1" />
<line x1="680.5" y1="473.4" x2="680.5" y2="506.8" stroke="#000" stroke-width="1" />
<line x1="507.4" y1="503.5" x2="680.8" y2="503.5" stroke="#000" stroke-width="1" />
<path d="M507.4 503.4 L512.4 502.1 L512.4 504.6Z" fill="#000" stroke="#000" stroke-width="0.5"/>
<path d="M680.8 503.4 L675.8 502.1 L675.8 504.6Z" fill="#000" stroke="#000" stroke-width="0.5"/>
<line x1="497.5" y1="473.4" x2="497.5" y2="520.8" stroke="#000" stroke-width="1" />
<line x1="691.5" y1="473.4" x2="691.5" y2="520.8" stroke="#000" stroke-width="1" />
<line x1="497.4" y1="517.5" x2="691.9" y2="517.5" stroke="#000" stroke-width="1" />
<path d="M497.4 517.5 L502.4 516.2 L502.4 518.8Z" fill="#000" stroke="#000" stroke-width="0.5"/>
<path d="M691.9 517.5 L686.9 516.2 L686.9 518.8Z" fill="#000" stroke="#000" stroke-width="0.5"/>
<text x="594.4" y="500.6" font-size="10.5" text-anchor="middle" fill="#000" stroke-width="0.08" textLength="17.0" lengthAdjust="spacingAndGlyphs" >1070</text>
<text x="594.4" y="514.3" font-size="10.5" text-anchor="middle" fill="#000" stroke-width="0.08" textLength="17.0" lengthAdjust="spacingAndGlyphs" >1200</text>
<rect x="835.5" y="181.5" width="98.0" height="214.0" stroke="#000" stroke-width="1" fill="none" />
<rect x="943.5" y="181.5" width="99.0" height="214.0" stroke="#000" stroke-width="1" fill="none" />
<rect x="1051.5" y="181.5" width="100.0" height="214.0" stroke="#000" stroke-width="1" fill="none" />
<rect x="862.5" y="169.5" width="44.0" height="12.0" stroke="#000" stroke-width="1" fill="none" />
<rect x="1078.5" y="169.5" width="45.0" height="12.0" stroke="#000" stroke-width="1" fill="none" />
<line x1="906.3" y1="173.5" x2="1078.2" y2="173.5" stroke="#000" stroke-width="1" />
<line x1="970.5" y1="173.7" x2="970.5" y2="181.1" stroke="#000" stroke-width="1" />
<line x1="1015.5" y1="173.7" x2="1015.5" y2="181.1" stroke="#000" stroke-width="1" />
<line x1="884.5" y1="77.5" x2="884.5" y2="93.3" stroke="#000" stroke-width="1" />
<line x1="884.5" y1="93.3" x2="884.5" y2="436.0" stroke="#000" stroke-width="1" stroke-dasharray="19 3 4.5 3" stroke-dashoffset="3.4"/>
<line x1="992.5" y1="77.5" x2="992.5" y2="93.3" stroke="#000" stroke-width="1" />
<line x1="992.5" y1="93.3" x2="992.5" y2="436.0" stroke="#000" stroke-width="1" stroke-dasharray="19 3 4.5 3" stroke-dashoffset="3.4"/>
<line x1="1101.5" y1="77.5" x2="1101.5" y2="93.3" stroke="#000" stroke-width="1" />
<line x1="1101.5" y1="93.3" x2="1101.5" y2="436.0" stroke="#000" stroke-width="1" stroke-dasharray="19 3 4.5 3" stroke-dashoffset="3.4"/>
<line x1="831.0" y1="130.0" x2="872.6" y2="130.0" stroke="#000" stroke-width="2" />
<line x1="831.5" y1="130.0" x2="831.5" y2="169.0" stroke="#000" stroke-width="1" />
<line x1="831.0" y1="169.0" x2="1155.8" y2="169.0" stroke="#000" stroke-width="2" />
<line x1="896.5" y1="130.0" x2="980.4" y2="130.0" stroke="#000" stroke-width="2" />
<line x1="1004.7" y1="130.0" x2="1089.5" y2="130.0" stroke="#000" stroke-width="2" />
<line x1="1113.6" y1="130.0" x2="1154.8" y2="130.0" stroke="#000" stroke-width="2" />
<line x1="1154.5" y1="130.0" x2="1154.5" y2="134.4" stroke="#000" stroke-width="1" />
<line x1="1154.5" y1="158.6" x2="1154.5" y2="169.0" stroke="#000" stroke-width="1" />
<line x1="868.0" y1="130.0" x2="868.0" y2="169.0" stroke="#000" stroke-width="2" />
<line x1="901.0" y1="130.0" x2="901.0" y2="134.4" stroke="#000" stroke-width="2" />
<line x1="901.0" y1="158.6" x2="901.0" y2="169.0" stroke="#000" stroke-width="2" />
<line x1="921.0" y1="130.0" x2="921.0" y2="134.4" stroke="#000" stroke-width="2" />
<line x1="921.0" y1="158.6" x2="921.0" y2="169.0" stroke="#000" stroke-width="2" />
<line x1="976.0" y1="130.0" x2="976.0" y2="134.4" stroke="#000" stroke-width="2" />
<line x1="976.0" y1="158.6" x2="976.0" y2="169.0" stroke="#000" stroke-width="2" />
<line x1="1009.0" y1="130.0" x2="1009.0" y2="134.4" stroke="#000" stroke-width="2" />
<line x1="1009.0" y1="158.6" x2="1009.0" y2="169.0" stroke="#000" stroke-width="2" />
<line x1="1065.0" y1="130.0" x2="1065.0" y2="134.4" stroke="#000" stroke-width="2" />
<line x1="1065.0" y1="158.6" x2="1065.0" y2="169.0" stroke="#000" stroke-width="2" />
<line x1="1085.0" y1="130.0" x2="1085.0" y2="134.4" stroke="#000" stroke-width="2" />
<line x1="1085.0" y1="158.6" x2="1085.0" y2="169.0" stroke="#000" stroke-width="2" />
<line x1="1118.0" y1="130.0" x2="1118.0" y2="134.4" stroke="#000" stroke-width="2" />
<line x1="1118.0" y1="158.6" x2="1118.0" y2="169.0" stroke="#000" stroke-width="2" />
<line x1="856.3" y1="152.0" x2="872.6" y2="152.0" stroke="#000" stroke-width="2" />
<circle cx="839.2" cy="151.6" r="4.0" stroke="#111" stroke-width="1.2" fill="none"/>
<circle cx="848.4" cy="141.8" r="1.4" stroke="#111" stroke-width="1.2" fill="none"/>
<circle cx="848.4" cy="161.2" r="1.4" stroke="#111" stroke-width="1.2" fill="none"/>
<circle cx="834.6" cy="146.3" r="0.9" stroke="#000" stroke-width="0.5" fill="#000"/>
<circle cx="834.6" cy="156.9" r="0.9" stroke="#000" stroke-width="0.5" fill="#000"/>
<path d="M878.0 158.8 L878.0 161.8 L875.0 164.8 L875.0 168.2" stroke="#555" stroke-width="1.2" fill="none" />
<path d="M891.2 158.8 L891.2 161.8 L894.2 164.8 L894.2 168.2" stroke="#555" stroke-width="1.2" fill="none" />
<path d="M986.0 158.8 L986.0 161.8 L983.0 164.8 L983.0 168.2" stroke="#555" stroke-width="1.2" fill="none" />
<path d="M999.2 158.8 L999.2 161.8 L1002.2 164.8 L1002.2 168.2" stroke="#555" stroke-width="1.2" fill="none" />
<path d="M1094.8 158.8 L1094.8 161.8 L1091.8 164.8 L1091.8 168.2" stroke="#555" stroke-width="1.2" fill="none" />
<path d="M1108.0 158.8 L1108.0 161.8 L1111.0 164.8 L1111.0 168.2" stroke="#555" stroke-width="1.2" fill="none" />
<rect x="933.9" y="163.9" width="10" height="3.4" rx="1.7" stroke="#555" stroke-width="0.9" fill="none"/>
<rect x="1041.6" y="163.9" width="10" height="3.4" rx="1.7" stroke="#555" stroke-width="0.9" fill="none"/>
<path d="M872.6 134.4 L872.6 93.3 L896.5 93.3 L896.5 134.4" stroke="#000" stroke-width="1.1" fill="none" />
<circle cx="876.6" cy="100.9" r="1.2" stroke="#222" stroke-width="0.8" fill="#777"/>
<circle cx="876.6" cy="110.6" r="1.2" stroke="#222" stroke-width="0.8" fill="#777"/>
<circle cx="884.6" cy="100.9" r="1.2" stroke="#222" stroke-width="0.8" fill="#000"/>
<circle cx="884.6" cy="110.6" r="1.2" stroke="#222" stroke-width="0.8" fill="#000"/>
<circle cx="892.6" cy="100.9" r="1.2" stroke="#222" stroke-width="0.8" fill="#777"/>
<circle cx="892.6" cy="110.6" r="1.2" stroke="#222" stroke-width="0.8" fill="#777"/>
<path d="M980.4 134.4 L980.4 93.3 L1004.7 93.3 L1004.7 134.4" stroke="#000" stroke-width="1.1" fill="none" />
<circle cx="984.6" cy="100.9" r="1.2" stroke="#222" stroke-width="0.8" fill="#777"/>
<circle cx="984.6" cy="110.6" r="1.2" stroke="#222" stroke-width="0.8" fill="#777"/>
<circle cx="992.6" cy="100.9" r="1.2" stroke="#222" stroke-width="0.8" fill="#000"/>
<circle cx="992.6" cy="110.6" r="1.2" stroke="#222" stroke-width="0.8" fill="#000"/>
<circle cx="1000.6" cy="100.9" r="1.2" stroke="#222" stroke-width="0.8" fill="#777"/>
<circle cx="1000.6" cy="110.6" r="1.2" stroke="#222" stroke-width="0.8" fill="#777"/>
<path d="M1089.5 134.4 L1089.5 93.3 L1113.6 93.3 L1113.6 134.4" stroke="#000" stroke-width="1.1" fill="none" />
<circle cx="1093.4" cy="100.9" r="1.2" stroke="#222" stroke-width="0.8" fill="#777"/>
<circle cx="1093.4" cy="110.6" r="1.2" stroke="#222" stroke-width="0.8" fill="#777"/>
<circle cx="1101.4" cy="100.9" r="1.2" stroke="#222" stroke-width="0.8" fill="#000"/>
<circle cx="1101.4" cy="110.6" r="1.2" stroke="#222" stroke-width="0.8" fill="#000"/>
<circle cx="1109.4" cy="100.9" r="1.2" stroke="#222" stroke-width="0.8" fill="#777"/>
<circle cx="1109.4" cy="110.6" r="1.2" stroke="#222" stroke-width="0.8" fill="#777"/>
<path d="M872.6 134.4 L1156.9 134.4 L1156.9 158.6 L872.6 158.6 Z" stroke="#000" stroke-width="1.1" fill="none" />
<circle cx="1135.7" cy="141.3" r="1.2" stroke="#222" stroke-width="0.8" fill="#666"/>
<circle cx="1135.7" cy="151.2" r="1.2" stroke="#222" stroke-width="0.8" fill="#666"/>
<circle cx="1143.9" cy="141.3" r="1.2" stroke="#222" stroke-width="0.8" fill="#666"/>
<circle cx="1143.9" cy="151.2" r="1.2" stroke="#222" stroke-width="0.8" fill="#666"/>
<circle cx="1152.2" cy="141.3" r="1.2" stroke="#222" stroke-width="0.8" fill="#666"/>
<circle cx="1152.2" cy="151.2" r="1.2" stroke="#222" stroke-width="0.8" fill="#666"/>
<circle cx="1137.5" cy="161.3" r="1.4" stroke="#222" stroke-width="0.8" fill="none"/>
<line x1="884.6" y1="82.5" x2="1143.9" y2="82.5" stroke="#000" stroke-width="1" />
<path d="M884.6 82.1 L889.6 80.8 L889.6 83.3Z" fill="#000" stroke="#000" stroke-width="0.5"/>
<path d="M992.6 82.1 L987.6 80.8 L987.6 83.3Z" fill="#000" stroke="#000" stroke-width="0.5"/>
<path d="M992.6 82.1 L997.6 80.8 L997.6 83.3Z" fill="#000" stroke="#000" stroke-width="0.5"/>
<path d="M1101.4 82.1 L1096.4 80.8 L1096.4 83.3Z" fill="#000" stroke="#000" stroke-width="0.5"/>
<path d="M1101.4 82.1 L1106.4 80.8 L1106.4 83.3Z" fill="#000" stroke="#000" stroke-width="0.5"/>
<path d="M1143.9 82.1 L1138.9 80.8 L1138.9 83.3Z" fill="#000" stroke="#000" stroke-width="0.5"/>
<line x1="1143.5" y1="78.5" x2="1143.5" y2="160.3" stroke="#000" stroke-width="1" />
<text x="938.9" y="79.5" font-size="10" text-anchor="middle" fill="#000" stroke-width="0.08" textLength="14.8" lengthAdjust="spacingAndGlyphs" >670</text>
<text x="1047.0" y="79.5" font-size="10" text-anchor="middle" fill="#000" stroke-width="0.08" textLength="14.8" lengthAdjust="spacingAndGlyphs" >670</text>
<text x="1122.7" y="79.5" font-size="10" text-anchor="middle" fill="#000" stroke-width="0.08" textLength="14.8" lengthAdjust="spacingAndGlyphs" >265</text>
<text x="955.7" y="66.0" font-size="12" text-anchor="start" fill="#000" stroke-width="0.2" textLength="61.4" lengthAdjust="spacingAndGlyphs" >Сторона НН.</text>
<rect x="831.5" y="110.5" width="26.0" height="14.0" stroke="#000" stroke-width="1" fill="none" />
<text x="819.0" y="81.6" font-size="14" text-anchor="middle" fill="#1a1a1a" stroke-width="0.3" textLength="6.0" lengthAdjust="spacingAndGlyphs" >7</text>
<line x1="808.7" y1="84.5" x2="829.0" y2="84.5" stroke="#333" stroke-width="1" />
<line x1="829.0" y1="84.7" x2="843.7" y2="116.2" stroke="#333" stroke-width="1" />
<circle cx="843.7" cy="116.4" r="0.7" stroke="#000" stroke-width="0.5" fill="#000"/>
<line x1="862.5" y1="395.3" x2="862.5" y2="403.9" stroke="#000" stroke-width="1" />
<line x1="906.5" y1="395.3" x2="906.5" y2="403.9" stroke="#000" stroke-width="1" />
<line x1="970.5" y1="395.3" x2="970.5" y2="403.9" stroke="#000" stroke-width="1" />
<line x1="1014.5" y1="395.3" x2="1014.5" y2="403.9" stroke="#000" stroke-width="1" />
<line x1="1078.5" y1="395.3" x2="1078.5" y2="403.9" stroke="#000" stroke-width="1" />
<line x1="1123.5" y1="395.3" x2="1123.5" y2="403.9" stroke="#000" stroke-width="1" />
<path d="M875.2 404.8 L875.2 411.7 L878.1 414.0 L878.1 420.1 L875.2 422.9 L875.2 424.0" stroke="#444" stroke-width="1.2" fill="none" />
<path d="M894.4 404.8 L894.4 411.7 L891.5 414.0 L891.5 420.1 L894.4 422.9 L894.4 424.0" stroke="#444" stroke-width="1.2" fill="none" />
<line x1="875.2" y1="427.5" x2="894.4" y2="427.5" stroke="#444" stroke-width="1" />
<path d="M983.4 404.8 L983.4 411.7 L986.3 414.0 L986.3 420.1 L983.4 422.9 L983.4 424.0" stroke="#444" stroke-width="1.2" fill="none" />
<path d="M1002.6 404.8 L1002.6 411.7 L999.7 414.0 L999.7 420.1 L1002.6 422.9 L1002.6 424.0" stroke="#444" stroke-width="1.2" fill="none" />
<line x1="983.4" y1="427.5" x2="1002.6" y2="427.5" stroke="#444" stroke-width="1" />
<path d="M1091.4 404.8 L1091.4 411.7 L1094.3 414.0 L1094.3 420.1 L1091.4 422.9 L1091.4 424.0" stroke="#444" stroke-width="1.2" fill="none" />
<path d="M1110.6 404.8 L1110.6 411.7 L1107.7 414.0 L1107.7 420.1 L1110.6 422.9 L1110.6 424.0" stroke="#444" stroke-width="1.2" fill="none" />
<line x1="1091.4" y1="427.5" x2="1110.6" y2="427.5" stroke="#444" stroke-width="1" />
<line x1="831.1" y1="404.0" x2="1155.7" y2="404.0" stroke="#000" stroke-width="2" />
<line x1="831.1" y1="448.0" x2="1155.7" y2="448.0" stroke="#000" stroke-width="2" />
<line x1="831.5" y1="403.9" x2="831.5" y2="447.6" stroke="#000" stroke-width="1" />
<line x1="1155.5" y1="403.9" x2="1155.5" y2="447.6" stroke="#000" stroke-width="1" />
<line x1="868.0" y1="403.9" x2="868.0" y2="447.6" stroke="#000" stroke-width="2" />
<line x1="901.0" y1="403.9" x2="901.0" y2="447.6" stroke="#000" stroke-width="2" />
<line x1="921.0" y1="403.9" x2="921.0" y2="447.6" stroke="#000" stroke-width="2" />
<line x1="976.0" y1="403.9" x2="976.0" y2="447.6" stroke="#000" stroke-width="2" />
<line x1="1009.0" y1="403.9" x2="1009.0" y2="447.6" stroke="#000" stroke-width="2" />
<line x1="1065.0" y1="403.9" x2="1065.0" y2="447.6" stroke="#000" stroke-width="2" />
<line x1="1085.0" y1="403.9" x2="1085.0" y2="447.6" stroke="#000" stroke-width="2" />
<line x1="1118.0" y1="403.9" x2="1118.0" y2="447.6" stroke="#000" stroke-width="2" />
<line x1="855.2" y1="425.0" x2="900.8" y2="425.0" stroke="#000" stroke-width="2" />
<line x1="976.1" y1="425.0" x2="1009.2" y2="425.0" stroke="#000" stroke-width="2" />
<line x1="1085.0" y1="425.0" x2="1130.4" y2="425.0" stroke="#000" stroke-width="2" />
<rect x="934.0" y="409.6" width="10" height="3.4" rx="1.7" stroke="#555" stroke-width="0.9" fill="none"/>
<rect x="934.0" y="438.0" width="10" height="3.4" rx="1.7" stroke="#555" stroke-width="0.9" fill="none"/>
<rect x="1042.0" y="409.6" width="10" height="3.4" rx="1.7" stroke="#555" stroke-width="0.9" fill="none"/>
<rect x="1042.0" y="438.0" width="10" height="3.4" rx="1.7" stroke="#555" stroke-width="0.9" fill="none"/>
<circle cx="839.2" cy="425.6" r="4.0" stroke="#111" stroke-width="1.2" fill="none"/>
<circle cx="848.4" cy="415.8" r="1.4" stroke="#111" stroke-width="1.2" fill="none"/>
<circle cx="848.4" cy="435.2" r="1.4" stroke="#111" stroke-width="1.2" fill="none"/>
<circle cx="834.6" cy="420.3" r="0.9" stroke="#000" stroke-width="0.5" fill="#000"/>
<circle cx="834.6" cy="430.9" r="0.9" stroke="#000" stroke-width="0.5" fill="#000"/>
<circle cx="1146.8" cy="425.6" r="4.0" stroke="#111" stroke-width="1.2" fill="none"/>
<circle cx="1137.6" cy="415.8" r="1.4" stroke="#111" stroke-width="1.2" fill="none"/>
<circle cx="1137.6" cy="435.2" r="1.4" stroke="#111" stroke-width="1.2" fill="none"/>
<circle cx="1151.4" cy="420.3" r="0.9" stroke="#000" stroke-width="0.5" fill="#000"/>
<circle cx="1151.4" cy="430.9" r="0.9" stroke="#000" stroke-width="0.5" fill="#000"/>
<line x1="888.0" y1="447.9" x2="888.0" y2="467.2" stroke="#000" stroke-width="2" />
<line x1="914.5" y1="447.9" x2="914.5" y2="467.2" stroke="#000" stroke-width="1" />
<line x1="888.2" y1="451.5" x2="914.1" y2="451.5" stroke="#000" stroke-width="1" />
<circle cx="900.9" cy="461.5" r="11.4" stroke="#111" stroke-width="1.1" fill="none"/>
<circle cx="900.9" cy="461.5" r="4.2" stroke="#222" stroke-width="1" fill="none"/>
<line x1="880.0" y1="467.5" x2="922.3" y2="467.5" stroke="#000" stroke-width="1" />
<path d="M880.2 448.9 L888.2 448.9 L888.2 450.2Z" stroke="#666" stroke-width="0.3" fill="#666" />
<path d="M880.2 466.5 L888.2 466.5 L888.2 465.0Z" stroke="#666" stroke-width="0.3" fill="#666" />
<path d="M922.3 448.9 L914.1 448.9 L914.1 450.2Z" stroke="#666" stroke-width="0.3" fill="#666" />
<path d="M922.3 466.5 L914.1 466.5 L914.1 465.0Z" stroke="#666" stroke-width="0.3" fill="#666" />
<line x1="1072.0" y1="447.9" x2="1072.0" y2="467.2" stroke="#000" stroke-width="2" />
<line x1="1097.5" y1="447.9" x2="1097.5" y2="467.2" stroke="#000" stroke-width="1" />
<line x1="1071.9" y1="451.5" x2="1097.6" y2="451.5" stroke="#000" stroke-width="1" />
<circle cx="1084.6" cy="461.5" r="11.4" stroke="#111" stroke-width="1.1" fill="none"/>
<circle cx="1084.6" cy="461.5" r="4.2" stroke="#222" stroke-width="1" fill="none"/>
<line x1="1063.7" y1="467.5" x2="1105.8" y2="467.5" stroke="#000" stroke-width="1" />
<path d="M1063.9 448.9 L1071.9 448.9 L1071.9 450.2Z" stroke="#666" stroke-width="0.3" fill="#666" />
<path d="M1063.9 466.5 L1071.9 466.5 L1071.9 465.0Z" stroke="#666" stroke-width="0.3" fill="#666" />
<path d="M1105.8 448.9 L1097.6 448.9 L1097.6 450.2Z" stroke="#666" stroke-width="0.3" fill="#666" />
<path d="M1105.8 466.5 L1097.6 466.5 L1097.6 465.0Z" stroke="#666" stroke-width="0.3" fill="#666" />
<line x1="1063.2" y1="458.0" x2="1071.9" y2="458.0" stroke="#000" stroke-width="2" />
<rect x="1068.4" y="455.6" width="3.0" height="4.0" stroke="#000" stroke-width="0.5" fill="#000" />
<text x="861.0" y="506.4" font-size="14" text-anchor="middle" fill="#1a1a1a" stroke-width="0.3" textLength="6.5" lengthAdjust="spacingAndGlyphs" >5</text>
<line x1="850.6" y1="509.5" x2="871.0" y2="509.5" stroke="#333" stroke-width="1" />
<line x1="871.0" y1="509.3" x2="901.7" y2="470.4" stroke="#333" stroke-width="1" />
<text x="1017.5" y="509.0" font-size="14" text-anchor="middle" fill="#1a1a1a" stroke-width="0.3" textLength="6.5" lengthAdjust="spacingAndGlyphs" >6</text>
<line x1="1007.3" y1="511.5" x2="1027.9" y2="511.5" stroke="#555" stroke-width="1" />
<line x1="1027.9" y1="511.6" x2="1066.0" y2="459.3" stroke="#333" stroke-width="1" />
<text x="128.6" y="598.4" font-size="17" text-anchor="start" fill="#555" stroke-width="0.3" textLength="63.2" lengthAdjust="spacingAndGlyphs" >Ввод НН.</text>
<text x="158.5" y="612.0" font-size="9" text-anchor="middle" fill="#000" stroke-width="0.08" textLength="15.0" lengthAdjust="spacingAndGlyphs" >(1:5)</text>
<path d="M143.5 730.8 L143.5 631.3 L246.5 631.3" stroke="#000" stroke-width="1.1" fill="none" />
<line x1="203.5" y1="625.0" x2="203.5" y2="731.1" stroke="#000" stroke-width="1" />
<path d="M143.5 730.8 C150 734.5 160 733.8 172 731 C185 728 195 726.8 203.3 731.1" stroke="#000" stroke-width="1" fill="none" />
<circle cx="153.4" cy="642.2" r="4.1" stroke="#111" stroke-width="1" fill="none"/>
<line x1="149.3" y1="642.5" x2="157.5" y2="642.5" stroke="#000" stroke-width="0.9" />
<line x1="153.5" y1="638.1" x2="153.5" y2="646.3" stroke="#000" stroke-width="0.9" />
<circle cx="153.4" cy="666.1" r="4.1" stroke="#111" stroke-width="1" fill="none"/>
<line x1="149.3" y1="666.5" x2="157.5" y2="666.5" stroke="#000" stroke-width="0.9" />
<line x1="153.5" y1="662.0" x2="153.5" y2="670.2" stroke="#000" stroke-width="0.9" />
<line x1="153.5" y1="625.2" x2="153.5" y2="642.2" stroke="#000" stroke-width="1" />
<circle cx="173.5" cy="642.2" r="4.1" stroke="#111" stroke-width="1" fill="none"/>
<line x1="169.4" y1="642.5" x2="177.6" y2="642.5" stroke="#000" stroke-width="0.9" />
<line x1="173.5" y1="638.1" x2="173.5" y2="646.3" stroke="#000" stroke-width="0.9" />
<circle cx="173.5" cy="666.1" r="4.1" stroke="#111" stroke-width="1" fill="none"/>
<line x1="169.4" y1="666.5" x2="177.6" y2="666.5" stroke="#000" stroke-width="0.9" />
<line x1="173.5" y1="662.0" x2="173.5" y2="670.2" stroke="#000" stroke-width="0.9" />
<line x1="173.5" y1="625.2" x2="173.5" y2="642.2" stroke="#000" stroke-width="1" />
<circle cx="193.4" cy="642.2" r="4.1" stroke="#111" stroke-width="1" fill="none"/>
<line x1="189.3" y1="642.5" x2="197.5" y2="642.5" stroke="#000" stroke-width="0.9" />
<line x1="193.5" y1="638.1" x2="193.5" y2="646.3" stroke="#000" stroke-width="0.9" />
<circle cx="193.4" cy="666.1" r="4.1" stroke="#111" stroke-width="1" fill="none"/>
<line x1="189.3" y1="666.5" x2="197.5" y2="666.5" stroke="#000" stroke-width="0.9" />
<line x1="193.5" y1="662.0" x2="193.5" y2="670.2" stroke="#000" stroke-width="0.9" />
<line x1="193.5" y1="625.2" x2="193.5" y2="642.2" stroke="#000" stroke-width="1" />
<line x1="153.4" y1="628.5" x2="228.4" y2="628.5" stroke="#000" stroke-width="1" />
<path d="M153.4 628.5 L157.4 627.2 L157.4 629.8Z" fill="#000" stroke="#000" stroke-width="0.5"/>
<path d="M173.5 628.5 L169.5 627.2 L169.5 629.8Z" fill="#000" stroke="#000" stroke-width="0.5"/>
<path d="M173.5 628.5 L177.5 627.2 L177.5 629.8Z" fill="#000" stroke="#000" stroke-width="0.5"/>
<path d="M193.4 628.5 L189.4 627.2 L189.4 629.8Z" fill="#000" stroke="#000" stroke-width="0.5"/>
<path d="M193.4 628.5 L197.4 627.2 L197.4 629.8Z" fill="#000" stroke="#000" stroke-width="0.5"/>
<path d="M203.3 628.5 L207.3 627.2 L207.3 629.8Z" fill="#000" stroke="#000" stroke-width="0.5"/>
<line x1="193.4" y1="642.5" x2="246.5" y2="642.5" stroke="#000" stroke-width="1" />
<line x1="193.4" y1="666.5" x2="223.4" y2="666.5" stroke="#000" stroke-width="1" />
<line x1="221.5" y1="642.2" x2="221.5" y2="666.1" stroke="#000" stroke-width="1" />
<path d="M221.0 642.2 L219.8 646.2 L222.2 646.2Z" fill="#000" stroke="#000" stroke-width="0.5"/>
<path d="M221.0 666.1 L219.8 662.1 L222.2 662.1Z" fill="#000" stroke="#000" stroke-width="0.5"/>
<line x1="243.5" y1="621.1" x2="243.5" y2="666.5" stroke="#000" stroke-width="1" />
<path d="M243.2 631.3 L241.9 627.3 L244.4 627.3Z" fill="#000" stroke="#000" stroke-width="0.5"/>
<path d="M243.2 642.2 L241.9 646.2 L244.4 646.2Z" fill="#000" stroke="#000" stroke-width="0.5"/>
<text x="163.3" y="626.0" font-size="10" text-anchor="middle" fill="#000" stroke-width="0.08" textLength="10.0" lengthAdjust="spacingAndGlyphs" >50</text>
<text x="183.9" y="626.0" font-size="10" text-anchor="middle" fill="#000" stroke-width="0.08" textLength="10.0" lengthAdjust="spacingAndGlyphs" >50</text>
<text x="221.3" y="626.0" font-size="10" text-anchor="middle" fill="#000" stroke-width="0.08" textLength="10.0" lengthAdjust="spacingAndGlyphs" >25</text>
<text x="218.6" y="654.0" font-size="10" text-anchor="middle" fill="#000" stroke-width="0.08" textLength="10.0" lengthAdjust="spacingAndGlyphs" transform="rotate(-90 218.6 654.0)" >60</text>
<text x="241.6" y="659.0" font-size="10" text-anchor="middle" fill="#000" stroke-width="0.08" textLength="10.0" lengthAdjust="spacingAndGlyphs" transform="rotate(-90 241.6 659.0)" >25</text>
<text x="115.1" y="651.3" font-size="10" text-anchor="start" fill="#000" stroke-width="0.08" textLength="13.9" lengthAdjust="spacingAndGlyphs" >ø18</text>
<line x1="115.0" y1="654.5" x2="130.3" y2="654.5" stroke="#555" stroke-width="1" />
<line x1="130.3" y1="654.4" x2="165.7" y2="635.5" stroke="#000" stroke-width="1" />
<path d="M146.4 645.9 l4.6 -3.4 l1.1 2z" stroke="#000" stroke-width="0.5" fill="#000" />
<path d="M160.4 638.4 l-4.6 3.4 l-1.1 -2z" stroke="#000" stroke-width="0.5" fill="#000" />
<text x="97.0" y="705.5" font-size="10" text-anchor="start" fill="#000" stroke-width="0.08" textLength="37.4" lengthAdjust="spacingAndGlyphs" >S=20 мм.</text>
<line x1="95.0" y1="709.5" x2="138.9" y2="709.5" stroke="#555" stroke-width="1" />
<line x1="138.9" y1="709.8" x2="148.4" y2="672.2" stroke="#000" stroke-width="1" />
<text x="325.8" y="601.7" font-size="20" text-anchor="start" fill="#222" stroke-width="0.3" textLength="76.5" lengthAdjust="spacingAndGlyphs" >Ввод ВН.</text>
<text x="364.1" y="617.3" font-size="9.5" text-anchor="middle" fill="#000" stroke-width="0.08" textLength="14.8" lengthAdjust="spacingAndGlyphs" >(1:2)</text>
<text x="364.1" y="627.4" font-size="10" text-anchor="middle" fill="#000" stroke-width="0.08" textLength="10.0" lengthAdjust="spacingAndGlyphs" >40</text>
<text x="353.7" y="640.4" font-size="10" text-anchor="middle" fill="#000" stroke-width="0.08" textLength="10.0" lengthAdjust="spacingAndGlyphs" >20</text>
<line x1="343.5" y1="626.9" x2="343.5" y2="723.4" stroke="#000" stroke-width="1" />
<line x1="383.5" y1="626.9" x2="383.5" y2="723.4" stroke="#000" stroke-width="1" />
<line x1="343.5" y1="630.5" x2="383.5" y2="630.5" stroke="#000" stroke-width="1" />
<path d="M343.5 630.2 L347.5 629.0 L347.5 631.5Z" fill="#000" stroke="#000" stroke-width="0.5"/>
<path d="M383.5 630.2 L379.5 629.0 L379.5 631.5Z" fill="#000" stroke="#000" stroke-width="0.5"/>
<line x1="343.5" y1="642.5" x2="363.6" y2="642.5" stroke="#000" stroke-width="1" />
<path d="M343.5 642.1 L347.5 640.9 L347.5 643.4Z" fill="#000" stroke="#000" stroke-width="0.5"/>
<path d="M363.6 642.1 L359.6 640.9 L359.6 643.4Z" fill="#000" stroke="#000" stroke-width="0.5"/>
<line x1="363.5" y1="639.3" x2="363.5" y2="697.0" stroke="#000" stroke-width="1" />
<line x1="363.5" y1="697.0" x2="363.5" y2="731.6" stroke="#000" stroke-width="1" stroke-dasharray="3 3 14 3"/>
<line x1="327.8" y1="654.5" x2="383.5" y2="654.5" stroke="#000" stroke-width="1" />
<line x1="327.8" y1="674.5" x2="373.2" y2="674.5" stroke="#000" stroke-width="1" />
<line x1="329.5" y1="654.4" x2="329.5" y2="674.2" stroke="#000" stroke-width="1" />
<path d="M329.0 654.4 L327.8 658.4 L330.2 658.4Z" fill="#000" stroke="#000" stroke-width="0.5"/>
<path d="M329.0 674.2 L327.8 670.2 L330.2 670.2Z" fill="#000" stroke="#000" stroke-width="0.5"/>
<text x="326.0" y="664.3" font-size="10" text-anchor="middle" fill="#000" stroke-width="0.08" textLength="10.0" lengthAdjust="spacingAndGlyphs" transform="rotate(-90 326.0 664.3)" >25</text>
<circle cx="363.6" cy="674.2" r="6.9" stroke="#111" stroke-width="1" fill="none"/>
<line x1="350.4" y1="663.7" x2="391.3" y2="696.1" stroke="#000" stroke-width="1" />
<line x1="391.3" y1="696.5" x2="406.6" y2="696.5" stroke="#555" stroke-width="1" />
<path d="M358.4 670.1 l-4.9 -2.6 l1.5 -1.9z" stroke="#000" stroke-width="0.5" fill="#000" />
<path d="M368.8 678.3 l4.9 2.6 l-1.5 1.9z" stroke="#000" stroke-width="0.5" fill="#000" />
<text x="393.4" y="693.7" font-size="10" text-anchor="start" fill="#000" stroke-width="0.08" textLength="13.2" lengthAdjust="spacingAndGlyphs" >ø14</text>
<text x="303.1" y="717.6" font-size="10" text-anchor="start" fill="#000" stroke-width="0.08" textLength="10.7" lengthAdjust="spacingAndGlyphs" >S5</text>
<line x1="302.3" y1="718.5" x2="316.6" y2="718.5" stroke="#555" stroke-width="1" />
<line x1="316.6" y1="718.9" x2="352.0" y2="700.3" stroke="#000" stroke-width="1" />
<path d="M343.5 723.4 C350 725.3 356 724.6 363 723.6 C370 722.6 377 722.4 383.5 723.6" stroke="#000" stroke-width="1" fill="none" />
<text x="523.9" y="573.6" font-size="15.5" text-anchor="start" fill="#222" stroke-width="0.3" textLength="26.6" lengthAdjust="spacingAndGlyphs" >ПБВ</text>
<rect x="493.5" y="589.5" width="33.0" height="16.0" stroke="#000" stroke-width="1" fill="none" />
<rect x="551.5" y="589.5" width="33.0" height="16.0" stroke="#000" stroke-width="1" fill="none" />
<polygon points="514.2,591.4 519.3,594.3 519.3,600.2 514.2,603.1 509.1,600.2 509.1,594.3" fill="#2a2a2a" stroke="#444" stroke-width="0.6"/>
<circle cx="514.2" cy="597.2" r="3.3" stroke="#bbb" stroke-width="0.9" fill="#fff"/>
<circle cx="514.2" cy="597.2" r="2.1" stroke="#222" stroke-width="1.2" fill="#fff"/>
<line x1="505.8" y1="597.5" x2="522.7" y2="597.5" stroke="#000" stroke-width="1" />
<line x1="514.5" y1="589.2" x2="514.5" y2="605.3" stroke="#000" stroke-width="1" />
<polygon points="563.5,591.4 568.6,594.3 568.6,600.2 563.5,603.1 558.4,600.2 558.4,594.3" fill="#2a2a2a" stroke="#444" stroke-width="0.6"/>
<circle cx="563.5" cy="597.2" r="3.3" stroke="#bbb" stroke-width="0.9" fill="#fff"/>
<circle cx="563.5" cy="597.2" r="2.1" stroke="#222" stroke-width="1.2" fill="#fff"/>
<line x1="555.1" y1="597.5" x2="572.0" y2="597.5" stroke="#000" stroke-width="1" />
<line x1="563.5" y1="589.2" x2="563.5" y2="605.3" stroke="#000" stroke-width="1" />
<rect x="493.5" y="638.5" width="33.0" height="16.0" stroke="#000" stroke-width="1" fill="none" />
<rect x="551.5" y="638.5" width="33.0" height="16.0" stroke="#000" stroke-width="1" fill="none" />
<polygon points="514.2,640.4 519.3,643.4 519.3,649.3 514.2,652.2 509.1,649.3 509.1,643.4" fill="#2a2a2a" stroke="#444" stroke-width="0.6"/>
<circle cx="514.2" cy="646.3" r="3.3" stroke="#bbb" stroke-width="0.9" fill="#fff"/>
<circle cx="514.2" cy="646.3" r="2.1" stroke="#222" stroke-width="1.2" fill="#fff"/>
<line x1="505.8" y1="646.5" x2="522.7" y2="646.5" stroke="#000" stroke-width="1" />
<line x1="514.5" y1="638.3" x2="514.5" y2="654.4" stroke="#000" stroke-width="1" />
<polygon points="563.5,640.4 568.6,643.4 568.6,649.3 563.5,652.2 558.4,649.3 558.4,643.4" fill="#2a2a2a" stroke="#444" stroke-width="0.6"/>
<circle cx="563.5" cy="646.3" r="3.3" stroke="#bbb" stroke-width="0.9" fill="#fff"/>
<circle cx="563.5" cy="646.3" r="2.1" stroke="#222" stroke-width="1.2" fill="#fff"/>
<line x1="555.1" y1="646.5" x2="572.0" y2="646.5" stroke="#000" stroke-width="1" />
<line x1="563.5" y1="638.3" x2="563.5" y2="654.4" stroke="#000" stroke-width="1" />
<rect x="493.5" y="687.5" width="33.0" height="16.0" stroke="#000" stroke-width="1" fill="none" />
<rect x="551.5" y="687.5" width="33.0" height="16.0" stroke="#000" stroke-width="1" fill="none" />
<polygon points="514.2,689.6 519.3,692.5 519.3,698.4 514.2,701.4 509.1,698.4 509.1,692.5" fill="#2a2a2a" stroke="#444" stroke-width="0.6"/>
<circle cx="514.2" cy="695.5" r="3.3" stroke="#bbb" stroke-width="0.9" fill="#fff"/>
<circle cx="514.2" cy="695.5" r="2.1" stroke="#222" stroke-width="1.2" fill="#fff"/>
<line x1="505.8" y1="695.5" x2="522.7" y2="695.5" stroke="#000" stroke-width="1" />
<line x1="514.5" y1="687.4" x2="514.5" y2="703.5" stroke="#000" stroke-width="1" />
<polygon points="563.5,689.6 568.6,692.5 568.6,698.4 563.5,701.4 558.4,698.4 558.4,692.5" fill="#2a2a2a" stroke="#444" stroke-width="0.6"/>
<circle cx="563.5" cy="695.5" r="3.3" stroke="#bbb" stroke-width="0.9" fill="#fff"/>
<circle cx="563.5" cy="695.5" r="2.1" stroke="#222" stroke-width="1.2" fill="#fff"/>
<line x1="555.1" y1="695.5" x2="572.0" y2="695.5" stroke="#000" stroke-width="1" />
<line x1="563.5" y1="687.4" x2="563.5" y2="703.5" stroke="#000" stroke-width="1" />
<line x1="526.5" y1="589.5" x2="551.5" y2="589.5" stroke="#000" stroke-width="1" />
<line x1="526.5" y1="703.5" x2="551.5" y2="703.5" stroke="#000" stroke-width="1" />
<line x1="502.5" y1="605.3" x2="502.5" y2="638.3" stroke="#000" stroke-width="1" />
<line x1="575.5" y1="605.3" x2="575.5" y2="638.3" stroke="#000" stroke-width="1" />
<line x1="502.5" y1="654.4" x2="502.5" y2="687.4" stroke="#000" stroke-width="1" />
<line x1="575.5" y1="654.4" x2="575.5" y2="687.4" stroke="#000" stroke-width="1" />
<text x="483.5" y="602.1" font-size="15" text-anchor="middle" fill="#555" stroke-width="0.3" textLength="3.5" lengthAdjust="spacingAndGlyphs" >1</text>
<text x="595.3" y="602.1" font-size="15" text-anchor="middle" fill="#555" stroke-width="0.3" textLength="7.0" lengthAdjust="spacingAndGlyphs" >6</text>
<text x="483.5" y="651.2" font-size="15" text-anchor="middle" fill="#555" stroke-width="0.3" textLength="7.0" lengthAdjust="spacingAndGlyphs" >2</text>
<text x="595.3" y="651.2" font-size="15" text-anchor="middle" fill="#555" stroke-width="0.3" textLength="7.0" lengthAdjust="spacingAndGlyphs" >5</text>
<text x="483.5" y="700.3" font-size="15" text-anchor="middle" fill="#555" stroke-width="0.3" textLength="7.0" lengthAdjust="spacingAndGlyphs" >3</text>
<text x="595.3" y="700.3" font-size="15" text-anchor="middle" fill="#555" stroke-width="0.3" textLength="7.0" lengthAdjust="spacingAndGlyphs" >4</text>
<text x="621.2" y="619.0" font-size="15" text-anchor="start" fill="#222" stroke-width="0.3" textLength="22.0" lengthAdjust="spacingAndGlyphs" >+5%</text>
<text x="666.4" y="619.0" font-size="15" text-anchor="start" fill="#444" stroke-width="0.3" textLength="21.9" lengthAdjust="spacingAndGlyphs" >2-3</text>
<text x="621.2" y="637.9" font-size="15" text-anchor="start" fill="#222" stroke-width="0.3" textLength="32.8" lengthAdjust="spacingAndGlyphs" >+2,5%</text>
<text x="666.4" y="637.9" font-size="15" text-anchor="start" fill="#444" stroke-width="0.3" textLength="21.9" lengthAdjust="spacingAndGlyphs" >3-4</text>
<text x="621.2" y="656.5" font-size="15" text-anchor="start" fill="#222" stroke-width="0.3" textLength="27.0" lengthAdjust="spacingAndGlyphs" >ном.</text>
<text x="666.4" y="656.5" font-size="15" text-anchor="start" fill="#444" stroke-width="0.3" textLength="21.9" lengthAdjust="spacingAndGlyphs" >4-5</text>
<text x="621.2" y="675.8" font-size="15" text-anchor="start" fill="#222" stroke-width="0.3" textLength="32.8" lengthAdjust="spacingAndGlyphs" >−2,5%</text>
<text x="666.4" y="675.8" font-size="15" text-anchor="start" fill="#444" stroke-width="0.3" textLength="21.9" lengthAdjust="spacingAndGlyphs" >5-6</text>
<text x="621.2" y="694.7" font-size="15" text-anchor="start" fill="#222" stroke-width="0.3" textLength="21.4" lengthAdjust="spacingAndGlyphs" >−5%</text>
<text x="666.4" y="694.7" font-size="15" text-anchor="start" fill="#444" stroke-width="0.3" textLength="21.9" lengthAdjust="spacingAndGlyphs" >6-1</text>
<rect x="849.5" y="529.5" width="261.0" height="171.0" stroke="#000" stroke-width="1" fill="none" />
<line x1="884.5" y1="529.4" x2="884.5" y2="700.3" stroke="#000" stroke-width="1" />
<line x1="849.3" y1="559.5" x2="1110.7" y2="559.5" stroke="#000" stroke-width="1" />
<line x1="849.3" y1="579.5" x2="1110.7" y2="579.5" stroke="#000" stroke-width="1" />
<line x1="849.3" y1="599.5" x2="1110.7" y2="599.5" stroke="#000" stroke-width="1" />
<line x1="849.3" y1="620.5" x2="1110.7" y2="620.5" stroke="#000" stroke-width="1" />
<line x1="849.3" y1="640.5" x2="1110.7" y2="640.5" stroke="#000" stroke-width="1" />
<line x1="849.3" y1="660.5" x2="1110.7" y2="660.5" stroke="#000" stroke-width="1" />
<line x1="849.3" y1="680.5" x2="1110.7" y2="680.5" stroke="#000" stroke-width="1" />
<text x="860.2" y="548.9" font-size="12" text-anchor="start" fill="#000" stroke-width="0.2" textLength="9.4" lengthAdjust="spacingAndGlyphs" >№</text>
<text x="918.5" y="548.9" font-size="12" text-anchor="start" fill="#000" stroke-width="0.2" textLength="76.0" lengthAdjust="spacingAndGlyphs" >Наименование</text>
<text x="863.4" y="576.1" font-size="12.7" text-anchor="middle" fill="#333" stroke-width="0.2" textLength="3.0" lengthAdjust="spacingAndGlyphs" >1</text>
<text x="890.1" y="576.1" font-size="12.7" text-anchor="start" fill="#1a1a1a" stroke-width="0.2" textLength="46.3" lengthAdjust="spacingAndGlyphs" >Ввод ВН</text>
<text x="863.4" y="595.9" font-size="12.7" text-anchor="middle" fill="#333" stroke-width="0.2" textLength="6.0" lengthAdjust="spacingAndGlyphs" >2</text>
<text x="890.1" y="595.9" font-size="12.7" text-anchor="start" fill="#1a1a1a" stroke-width="0.2" textLength="46.3" lengthAdjust="spacingAndGlyphs" >Ввод НН</text>
<text x="863.4" y="616.5" font-size="12.7" text-anchor="middle" fill="#333" stroke-width="0.2" textLength="6.0" lengthAdjust="spacingAndGlyphs" >3</text>
<text x="890.1" y="616.5" font-size="12.7" text-anchor="start" fill="#1a1a1a" stroke-width="0.2" textLength="96.2" lengthAdjust="spacingAndGlyphs" >Подъемные скобы</text>
<text x="863.4" y="636.7" font-size="12.7" text-anchor="middle" fill="#333" stroke-width="0.2" textLength="6.0" lengthAdjust="spacingAndGlyphs" >4</text>
<text x="890.1" y="636.7" font-size="12.7" text-anchor="start" fill="#1a1a1a" stroke-width="0.2" textLength="65.3" lengthAdjust="spacingAndGlyphs" >Панель ПБВ</text>
<text x="863.4" y="656.8" font-size="12.7" text-anchor="middle" fill="#333" stroke-width="0.2" textLength="6.0" lengthAdjust="spacingAndGlyphs" >5</text>
<text x="890.1" y="656.8" font-size="12.7" text-anchor="start" fill="#1a1a1a" stroke-width="0.2" textLength="84.1" lengthAdjust="spacingAndGlyphs" >Опорные катки</text>
<text x="863.4" y="677.1" font-size="12.7" text-anchor="middle" fill="#333" stroke-width="0.2" textLength="6.0" lengthAdjust="spacingAndGlyphs" >6</text>
<text x="890.1" y="677.1" font-size="12.7" text-anchor="start" fill="#1a1a1a" stroke-width="0.2" textLength="96.2" lengthAdjust="spacingAndGlyphs" >Болт заземления</text>
<text x="863.4" y="697.3" font-size="12.7" text-anchor="middle" fill="#333" stroke-width="0.2" textLength="6.0" lengthAdjust="spacingAndGlyphs" >7</text>
<text x="890.1" y="697.3" font-size="12.7" text-anchor="start" fill="#1a1a1a" stroke-width="0.2" textLength="216.2" lengthAdjust="spacingAndGlyphs" >Цифровое температурное реле ТР-100</text>
<line x1="819.5" y1="732.5" x2="1193.8" y2="732.5" stroke="#000" stroke-width="1" />
<line x1="819.5" y1="732.2" x2="819.5" y2="843.3" stroke="#000" stroke-width="1" />
<line x1="833.5" y1="732.2" x2="833.5" y2="782.7" stroke="#000" stroke-width="1" />
<line x1="854.5" y1="732.2" x2="854.5" y2="843.3" stroke="#000" stroke-width="1" />
<line x1="900.5" y1="732.2" x2="900.5" y2="843.3" stroke="#000" stroke-width="1" />
<line x1="928.5" y1="732.2" x2="928.5" y2="843.3" stroke="#000" stroke-width="1" />
<line x1="951.5" y1="732.2" x2="951.5" y2="843.3" stroke="#000" stroke-width="1" />
<line x1="819.5" y1="742.5" x2="951.4" y2="742.5" stroke="#000" stroke-width="1" />
<line x1="819.5" y1="752.5" x2="951.4" y2="752.5" stroke="#000" stroke-width="1" />
<line x1="819.5" y1="762.5" x2="951.4" y2="762.5" stroke="#000" stroke-width="1" />
<line x1="819.5" y1="772.5" x2="951.4" y2="772.5" stroke="#000" stroke-width="1" />
<line x1="819.5" y1="782.5" x2="951.4" y2="782.5" stroke="#000" stroke-width="1" />
<line x1="819.5" y1="792.5" x2="951.4" y2="792.5" stroke="#000" stroke-width="1" />
<line x1="819.5" y1="803.5" x2="951.4" y2="803.5" stroke="#000" stroke-width="1" />
<line x1="819.5" y1="813.5" x2="951.4" y2="813.5" stroke="#000" stroke-width="1" />
<line x1="819.5" y1="823.5" x2="951.4" y2="823.5" stroke="#000" stroke-width="1" />
<line x1="819.5" y1="833.5" x2="951.4" y2="833.5" stroke="#000" stroke-width="1" />
<line x1="951.4" y1="762.5" x2="1193.8" y2="762.5" stroke="#000" stroke-width="1" />
<line x1="951.4" y1="813.5" x2="1193.8" y2="813.5" stroke="#000" stroke-width="1" />
<line x1="1092.5" y1="762.7" x2="1092.5" y2="843.3" stroke="#000" stroke-width="1" />
<line x1="1092.5" y1="772.5" x2="1193.8" y2="772.5" stroke="#000" stroke-width="1" />
<line x1="1092.5" y1="803.5" x2="1193.8" y2="803.5" stroke="#000" stroke-width="1" />
<line x1="1102.5" y1="772.7" x2="1102.5" y2="803.3" stroke="#000" stroke-width="1" />
<line x1="1112.5" y1="772.7" x2="1112.5" y2="803.3" stroke="#000" stroke-width="1" />
<line x1="1122.5" y1="762.7" x2="1122.5" y2="803.3" stroke="#000" stroke-width="1" />
<line x1="1157.5" y1="762.7" x2="1157.5" y2="803.3" stroke="#000" stroke-width="1" />
<line x1="1134.5" y1="803.3" x2="1134.5" y2="813.5" stroke="#000" stroke-width="1" />
<text x="820.2" y="781.3" font-size="10.5" text-anchor="start" fill="#000" stroke-width="0.08" textLength="12.4" lengthAdjust="spacingAndGlyphs" >Изм</text>
<text x="834.6" y="781.3" font-size="10.5" text-anchor="start" fill="#000" stroke-width="0.08" textLength="19.2" lengthAdjust="spacingAndGlyphs" >Лист</text>
<text x="856.2" y="781.3" font-size="10.5" text-anchor="start" fill="#000" stroke-width="0.08" textLength="38.5" lengthAdjust="spacingAndGlyphs" >№ докум.</text>
<text x="901.6" y="781.3" font-size="10.5" text-anchor="start" fill="#000" stroke-width="0.08" textLength="23.0" lengthAdjust="spacingAndGlyphs" >Подп.</text>
<text x="929.3" y="781.3" font-size="10.5" text-anchor="start" fill="#000" stroke-width="0.08" textLength="19.0" lengthAdjust="spacingAndGlyphs" >Дата</text>
<text x="820.4" y="791.4" font-size="10.5" text-anchor="start" fill="#000" stroke-width="0.08" textLength="32.5" lengthAdjust="spacingAndGlyphs" >Разраб.</text>
<text x="820.4" y="801.8" font-size="10.5" text-anchor="start" fill="#000" stroke-width="0.08" textLength="21.5" lengthAdjust="spacingAndGlyphs" >Проб.</text>
<text x="820.4" y="812.2" font-size="10.5" text-anchor="start" fill="#000" stroke-width="0.08" textLength="33.5" lengthAdjust="spacingAndGlyphs" >Т.контр.</text>
<text x="820.4" y="832.1" font-size="10.5" text-anchor="start" fill="#000" stroke-width="0.08" textLength="33.5" lengthAdjust="spacingAndGlyphs" >Н.контр.</text>
<text x="820.4" y="842.0" font-size="10.5" text-anchor="start" fill="#000" stroke-width="0.08" textLength="18.0" lengthAdjust="spacingAndGlyphs" >Утв.</text>
<text x="1016.7" y="755.1" font-size="15.5" text-anchor="start" fill="#000" stroke-width="0.3" textLength="131.9" lengthAdjust="spacingAndGlyphs" >ТР 2500 0328.000 ГЧ</text>
<text x="1019.2" y="783.0" font-size="16" text-anchor="middle" fill="#000" stroke-width="0.3" textLength="95.4" lengthAdjust="spacingAndGlyphs" >Трансформатор</text>
<text x="1018.6" y="798.8" font-size="15" text-anchor="middle" fill="#000" stroke-width="0.3" textLength="102.6" lengthAdjust="spacingAndGlyphs" >ТС-2500/10(6) У3</text>
<text x="1018.2" y="811.0" font-size="10.5" text-anchor="middle" fill="#000" stroke-width="0.08" textLength="94.0" lengthAdjust="spacingAndGlyphs" >Габаритный чертеж</text>
<text x="1098.7" y="771.4" font-size="10.5" text-anchor="start" fill="#000" stroke-width="0.08" textLength="17.6" lengthAdjust="spacingAndGlyphs" >Лит.</text>
<text x="1126.7" y="771.4" font-size="10.5" text-anchor="start" fill="#000" stroke-width="0.08" textLength="25.6" lengthAdjust="spacingAndGlyphs" >Масса</text>
<text x="1158.3" y="771.4" font-size="10.5" text-anchor="start" fill="#000" stroke-width="0.08" textLength="34.7" lengthAdjust="spacingAndGlyphs" >Масштаб</text>
<text x="1125.8" y="793.6" font-size="15.5" text-anchor="start" fill="#222" stroke-width="0.3" textLength="28.1" lengthAdjust="spacingAndGlyphs" >6000</text>
<text x="1162.6" y="793.6" font-size="15.5" text-anchor="start" fill="#222" stroke-width="0.3" textLength="25.6" lengthAdjust="spacingAndGlyphs" >1:12.5</text>
<text x="1094.5" y="812.0" font-size="10.5" text-anchor="start" fill="#000" stroke-width="0.08" textLength="20.9" lengthAdjust="spacingAndGlyphs" >Лист</text>
<text x="1136.7" y="812.0" font-size="10.5" text-anchor="start" fill="#000" stroke-width="0.08" textLength="31.0" lengthAdjust="spacingAndGlyphs" >Листов</text>
<text x="1186.0" y="812.0" font-size="10.5" text-anchor="start" fill="#000" stroke-width="0.08" textLength="2.5" lengthAdjust="spacingAndGlyphs" >1</text>
<text x="1099.9" y="838.0" font-size="21" text-anchor="start" fill="#000" stroke-width="0.3" textLength="90.9" lengthAdjust="spacingAndGlyphs" >ПК СЛАВЭНЕРГО</text>
<text x="55.5" y="799.7" font-size="16" text-anchor="start" fill="#111" stroke-width="0.3" textLength="468.2" lengthAdjust="spacingAndGlyphs" >Трансформатор комплектуется катками по требованию заказчика.</text>
<text x="55.5" y="818.8" font-size="16" text-anchor="start" fill="#111" stroke-width="0.3" textLength="697.3" lengthAdjust="spacingAndGlyphs" >В связи с постояной модернизацией внешний вид трансформаторов, присоеденительные размеры и</text>
<text x="55.5" y="837.4" font-size="16" text-anchor="start" fill="#111" stroke-width="0.3" textLength="718.8" lengthAdjust="spacingAndGlyphs" >массо-габаритные характеристики могут незначительно отличаться от представленных на чертеже.</text>
</svg>
</body></html>
